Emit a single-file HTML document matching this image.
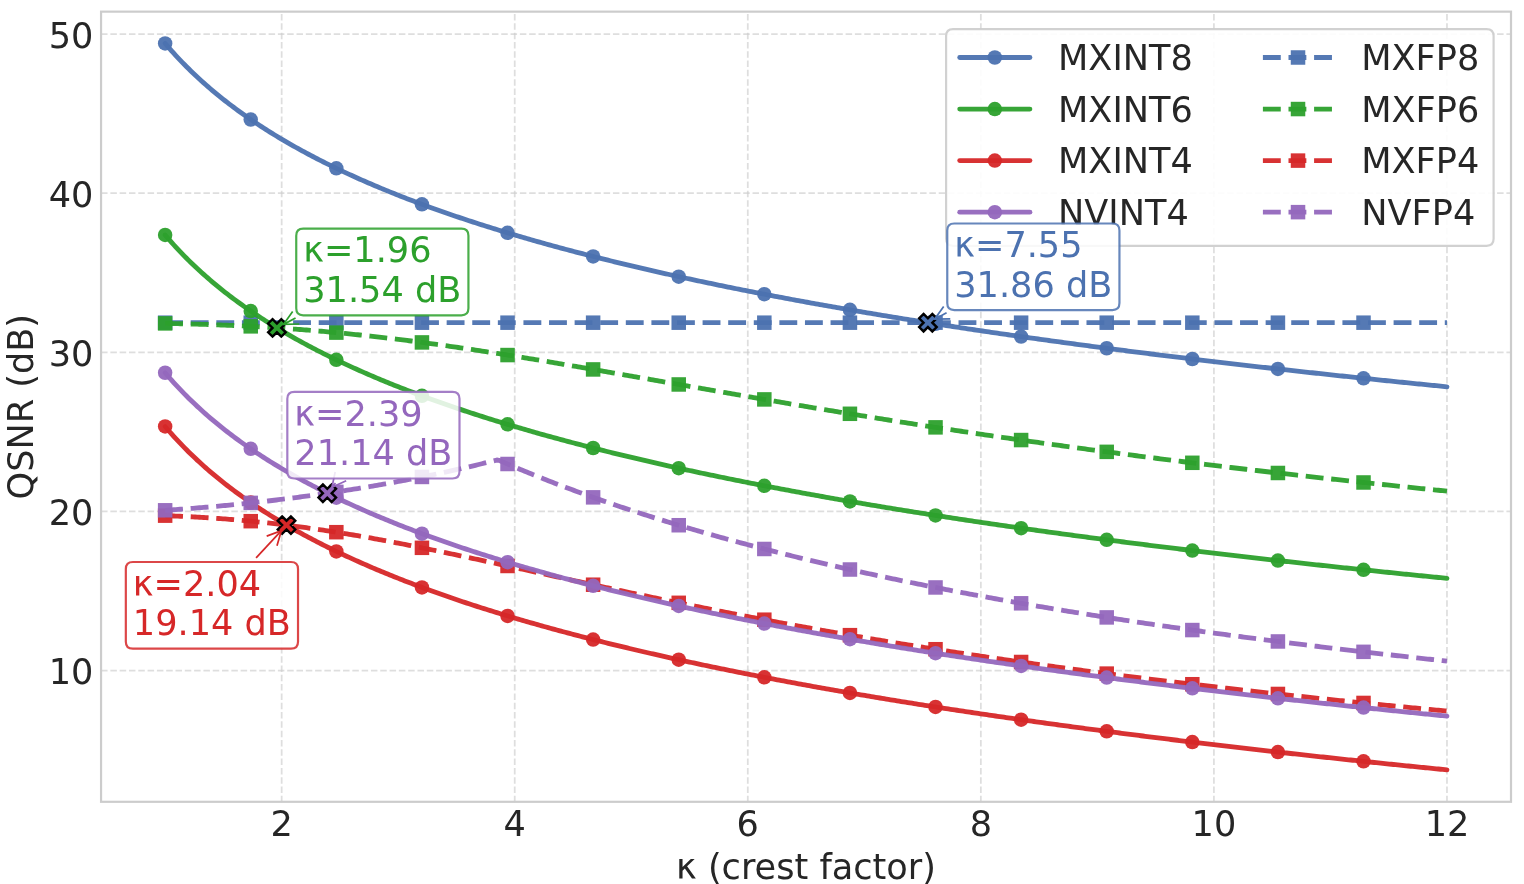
<!DOCTYPE html>
<html lang="en"><head><meta charset="utf-8"><title>QSNR vs crest factor</title>
<style>html,body{margin:0;padding:0;background:#fff}body{width:1524px;height:884px;overflow:hidden}svg{display:block}text{font-family:"DejaVu Sans","Liberation Sans",sans-serif;font-size:35.12px;fill:#262626}</style></head><body>
<svg width="1524" height="884" viewBox="0 0 1524 884" role="img" aria-label="QSNR versus crest factor for MX and NV integer and floating-point formats">
<rect width="1524" height="884" fill="#ffffff"/>
<g stroke="#cccccc" stroke-opacity="0.65" stroke-width="1.756" stroke-dasharray="6.497 2.810" fill="none">
<path d="M281.67 802.30V11.65"/>
<path d="M514.73 802.30V11.65"/>
<path d="M747.79 802.30V11.65"/>
<path d="M980.85 802.30V11.65"/>
<path d="M1213.91 802.30V11.65"/>
<path d="M1446.97 802.30V11.65"/>
<path d="M101.05 670.51H1511.00"/>
<path d="M101.05 511.42H1511.00"/>
<path d="M101.05 352.33H1511.00"/>
<path d="M101.05 193.24H1511.00"/>
<path d="M101.05 34.15H1511.00"/>
</g>
<g fill="none" stroke-width="4.829">
<polyline points="165.14,43.41 167.28,45.92 169.42,48.39 171.56,50.82 173.70,53.20 175.84,55.55 177.98,57.85 180.12,60.12 182.26,62.35 184.40,64.54 186.54,66.70 188.68,68.83 190.82,70.93 192.96,72.99 195.10,75.02 197.24,77.03 199.38,79.00 201.52,80.95 203.66,82.87 205.80,84.76 207.94,86.63 210.08,88.48 212.22,90.30 214.36,92.09 216.50,93.86 218.64,95.61 220.78,97.34 222.92,99.05 225.06,100.74 227.20,102.40 229.34,104.05 231.48,105.67 233.62,107.28 235.76,108.87 237.90,110.44 240.04,112.00 242.18,113.53 244.32,115.05 246.46,116.55 248.60,118.04 250.74,119.51 252.88,120.97 255.02,122.41 257.16,123.83 259.30,125.24 261.44,126.64 263.58,128.02 265.72,129.39 267.86,130.75 270.00,132.09 272.14,133.42 274.28,134.73 276.42,136.04 278.56,137.33 280.70,138.61 282.84,139.88 284.98,141.14 287.12,142.38 289.26,143.61 291.40,144.84 293.54,146.05 295.68,147.25 297.82,148.44 299.96,149.63 302.10,150.80 304.24,151.96 306.38,153.11 308.52,154.25 310.66,155.39 312.80,156.51 314.94,157.63 317.08,158.73 319.22,159.83 321.36,160.92 323.50,162.00 325.64,163.07 327.78,164.13 329.92,165.19 332.06,166.23 334.20,167.27 336.34,168.31 338.48,169.33 340.62,170.35 342.76,171.35 344.90,172.36 347.04,173.35 349.18,174.34 351.32,175.32 353.46,176.29 355.60,177.26 357.74,178.22 359.88,179.17 362.02,180.12 364.16,181.06 366.30,181.99 368.44,182.92 370.58,183.84 372.72,184.76 374.86,185.67 377.00,186.57 379.14,187.47 381.28,188.36 383.42,189.25 385.56,190.13 387.70,191.00 389.84,191.87 391.98,192.73 394.12,193.59 396.26,194.45 398.40,195.29 400.54,196.14 402.68,196.97 404.82,197.81 406.96,198.63 409.10,199.46 411.24,200.28 413.38,201.09 415.52,201.90 417.66,202.70 419.80,203.50 421.94,204.29 424.08,205.08 426.22,205.87 428.36,206.65 430.50,207.43 432.64,208.20 434.78,208.97 436.92,209.73 439.06,210.49 441.20,211.24 443.33,212.00 445.47,212.74 447.61,213.49 449.75,214.22 451.89,214.96 454.03,215.69 456.17,216.42 458.31,217.14 460.45,217.86 462.59,218.58 464.73,219.29 466.87,220.00 469.01,220.71 471.15,221.41 473.29,222.10 475.43,222.80 477.57,223.49 479.71,224.18 481.85,224.86 483.99,225.54 486.13,226.22 488.27,226.89 490.41,227.57 492.55,228.23 494.69,228.90 496.83,229.56 498.97,230.22 501.11,230.87 503.25,231.52 505.39,232.17 507.53,232.82 509.67,233.46 511.81,234.10 513.95,234.74 516.09,235.37 518.23,236.00 520.37,236.63 522.51,237.26 524.65,237.88 526.79,238.50 528.93,239.12 531.07,239.73 533.21,240.34 535.35,240.95 537.49,241.56 539.63,242.16 541.77,242.76 543.91,243.36 546.05,243.96 548.19,244.55 550.33,245.14 552.47,245.73 554.61,246.31 556.75,246.90 558.89,247.48 561.03,248.06 563.17,248.63 565.31,249.21 567.45,249.78 569.59,250.35 571.73,250.91 573.87,251.48 576.01,252.04 578.15,252.60 580.29,253.15 582.43,253.71 584.57,254.26 586.71,254.81 588.85,255.36 590.99,255.91 593.13,256.45 595.27,256.99 597.41,257.53 599.55,258.07 601.69,258.61 603.83,259.14 605.97,259.67 608.11,260.20 610.25,260.73 612.39,261.26 614.53,261.78 616.67,262.30 618.81,262.82 620.95,263.34 623.09,263.85 625.23,264.37 627.37,264.88 629.51,265.39 631.65,265.90 633.79,266.40 635.93,266.91 638.07,267.41 640.21,267.91 642.35,268.41 644.49,268.91 646.63,269.40 648.77,269.90 650.91,270.39 653.05,270.88 655.19,271.37 657.33,271.85 659.47,272.34 661.61,272.82 663.75,273.30 665.89,273.78 668.03,274.26 670.17,274.74 672.31,275.21 674.45,275.69 676.59,276.16 678.73,276.63 680.87,277.10 683.01,277.56 685.15,278.03 687.29,278.49 689.43,278.95 691.57,279.41 693.71,279.87 695.85,280.33 697.99,280.79 700.13,281.24 702.27,281.70 704.41,282.15 706.55,282.60 708.69,283.05 710.83,283.49 712.97,283.94 715.11,284.38 717.25,284.83 719.39,285.27 721.53,285.71 723.67,286.15 725.81,286.58 727.95,287.02 730.09,287.45 732.23,287.89 734.37,288.32 736.51,288.75 738.65,289.18 740.79,289.61 742.93,290.03 745.07,290.46 747.21,290.88 749.35,291.31 751.49,291.73 753.63,292.15 755.77,292.57 757.91,292.98 760.05,293.40 762.19,293.81 764.33,294.23 766.47,294.64 768.61,295.05 770.75,295.46 772.89,295.87 775.03,296.28 777.17,296.69 779.31,297.09 781.45,297.49 783.59,297.90 785.73,298.30 787.87,298.70 790.01,299.10 792.15,299.50 794.29,299.89 796.43,300.29 798.57,300.69 800.71,301.08 802.85,301.47 804.99,301.86 807.13,302.25 809.27,302.64 811.41,303.03 813.55,303.42 815.69,303.80 817.83,304.19 819.97,304.57 822.11,304.96 824.25,305.34 826.39,305.72 828.53,306.10 830.67,306.48 832.81,306.85 834.95,307.23 837.09,307.61 839.23,307.98 841.37,308.35 843.51,308.73 845.65,309.10 847.79,309.47 849.93,309.84 852.07,310.21 854.21,310.58 856.35,310.94 858.49,311.31 860.63,311.67 862.77,312.04 864.91,312.40 867.05,312.76 869.19,313.12 871.32,313.48 873.46,313.84 875.60,314.20 877.74,314.55 879.88,314.91 882.02,315.27 884.16,315.62 886.30,315.97 888.44,316.33 890.58,316.68 892.72,317.03 894.86,317.38 897.00,317.73 899.14,318.08 901.28,318.42 903.42,318.77 905.56,319.12 907.70,319.46 909.84,319.80 911.98,320.15 914.12,320.49 916.26,320.83 918.40,321.17 920.54,321.51 922.68,321.85 924.82,322.19 926.96,322.52 929.10,322.86 931.24,323.20 933.38,323.53 935.52,323.86 937.66,324.20 939.80,324.53 941.94,324.86 944.08,325.19 946.22,325.52 948.36,325.85 950.50,326.18 952.64,326.51 954.78,326.83 956.92,327.16 959.06,327.48 961.20,327.81 963.34,328.13 965.48,328.45 967.62,328.78 969.76,329.10 971.90,329.42 974.04,329.74 976.18,330.06 978.32,330.38 980.46,330.69 982.60,331.01 984.74,331.33 986.88,331.64 989.02,331.96 991.16,332.27 993.30,332.58 995.44,332.90 997.58,333.21 999.72,333.52 1001.86,333.83 1004.00,334.14 1006.14,334.45 1008.28,334.76 1010.42,335.07 1012.56,335.37 1014.70,335.68 1016.84,335.99 1018.98,336.29 1021.12,336.60 1023.26,336.90 1025.40,337.20 1027.54,337.50 1029.68,337.81 1031.82,338.11 1033.96,338.41 1036.10,338.71 1038.24,339.01 1040.38,339.31 1042.52,339.60 1044.66,339.90 1046.80,340.20 1048.94,340.49 1051.08,340.79 1053.22,341.08 1055.36,341.38 1057.50,341.67 1059.64,341.96 1061.78,342.25 1063.92,342.55 1066.06,342.84 1068.20,343.13 1070.34,343.42 1072.48,343.71 1074.62,344.00 1076.76,344.28 1078.90,344.57 1081.04,344.86 1083.18,345.14 1085.32,345.43 1087.46,345.71 1089.60,346.00 1091.74,346.28 1093.88,346.56 1096.02,346.85 1098.16,347.13 1100.30,347.41 1102.44,347.69 1104.58,347.97 1106.72,348.25 1108.86,348.53 1111.00,348.81 1113.14,349.09 1115.28,349.37 1117.42,349.64 1119.56,349.92 1121.70,350.19 1123.84,350.47 1125.98,350.74 1128.12,351.02 1130.26,351.29 1132.40,351.57 1134.54,351.84 1136.68,352.11 1138.82,352.38 1140.96,352.65 1143.10,352.92 1145.24,353.19 1147.38,353.46 1149.52,353.73 1151.66,354.00 1153.80,354.27 1155.94,354.53 1158.08,354.80 1160.22,355.07 1162.36,355.33 1164.50,355.60 1166.64,355.86 1168.78,356.13 1170.92,356.39 1173.06,356.65 1175.20,356.92 1177.34,357.18 1179.48,357.44 1181.62,357.70 1183.76,357.96 1185.90,358.22 1188.04,358.48 1190.18,358.74 1192.32,359.00 1194.46,359.26 1196.60,359.52 1198.74,359.78 1200.88,360.03 1203.02,360.29 1205.16,360.54 1207.30,360.80 1209.44,361.05 1211.58,361.31 1213.72,361.56 1215.86,361.82 1218.00,362.07 1220.14,362.32 1222.28,362.57 1224.42,362.83 1226.56,363.08 1228.70,363.33 1230.84,363.58 1232.98,363.83 1235.12,364.08 1237.26,364.33 1239.40,364.58 1241.54,364.82 1243.68,365.07 1245.82,365.32 1247.96,365.57 1250.10,365.81 1252.24,366.06 1254.38,366.30 1256.52,366.55 1258.66,366.79 1260.80,367.04 1262.94,367.28 1265.08,367.52 1267.22,367.77 1269.36,368.01 1271.50,368.25 1273.64,368.49 1275.78,368.73 1277.92,368.97 1280.06,369.22 1282.20,369.46 1284.34,369.69 1286.48,369.93 1288.62,370.17 1290.76,370.41 1292.90,370.65 1295.04,370.89 1297.18,371.12 1299.31,371.36 1301.45,371.60 1303.59,371.83 1305.73,372.07 1307.87,372.30 1310.01,372.54 1312.15,372.77 1314.29,373.00 1316.43,373.24 1318.57,373.47 1320.71,373.70 1322.85,373.94 1324.99,374.17 1327.13,374.40 1329.27,374.63 1331.41,374.86 1333.55,375.09 1335.69,375.32 1337.83,375.55 1339.97,375.78 1342.11,376.01 1344.25,376.24 1346.39,376.47 1348.53,376.69 1350.67,376.92 1352.81,377.15 1354.95,377.37 1357.09,377.60 1359.23,377.83 1361.37,378.05 1363.51,378.28 1365.65,378.50 1367.79,378.73 1369.93,378.95 1372.07,379.17 1374.21,379.40 1376.35,379.62 1378.49,379.84 1380.63,380.06 1382.77,380.29 1384.91,380.51 1387.05,380.73 1389.19,380.95 1391.33,381.17 1393.47,381.39 1395.61,381.61 1397.75,381.83 1399.89,382.05 1402.03,382.27 1404.17,382.48 1406.31,382.70 1408.45,382.92 1410.59,383.14 1412.73,383.35 1414.87,383.57 1417.01,383.79 1419.15,384.00 1421.29,384.22 1423.43,384.43 1425.57,384.65 1427.71,384.86 1429.85,385.08 1431.99,385.29 1434.13,385.51 1436.27,385.72 1438.41,385.93 1440.55,386.14 1442.69,386.36 1444.83,386.57 1446.97,386.78" stroke="#4c72b0" stroke-opacity="0.95" stroke-linecap="round" stroke-linejoin="round"/>
<g stroke="none"><circle cx="165.14" cy="43.41" r="7.25" fill="#4c72b0" fill-opacity="0.95"/><circle cx="250.74" cy="119.51" r="7.25" fill="#4c72b0" fill-opacity="0.95"/><circle cx="336.34" cy="168.31" r="7.25" fill="#4c72b0" fill-opacity="0.95"/><circle cx="421.94" cy="204.29" r="7.25" fill="#4c72b0" fill-opacity="0.95"/><circle cx="507.53" cy="232.82" r="7.25" fill="#4c72b0" fill-opacity="0.95"/><circle cx="593.13" cy="256.45" r="7.25" fill="#4c72b0" fill-opacity="0.95"/><circle cx="678.73" cy="276.63" r="7.25" fill="#4c72b0" fill-opacity="0.95"/><circle cx="764.33" cy="294.23" r="7.25" fill="#4c72b0" fill-opacity="0.95"/><circle cx="849.93" cy="309.84" r="7.25" fill="#4c72b0" fill-opacity="0.95"/><circle cx="935.52" cy="323.86" r="7.25" fill="#4c72b0" fill-opacity="0.95"/><circle cx="1021.12" cy="336.60" r="7.25" fill="#4c72b0" fill-opacity="0.95"/><circle cx="1106.72" cy="348.25" r="7.25" fill="#4c72b0" fill-opacity="0.95"/><circle cx="1192.32" cy="359.00" r="7.25" fill="#4c72b0" fill-opacity="0.95"/><circle cx="1277.92" cy="368.97" r="7.25" fill="#4c72b0" fill-opacity="0.95"/><circle cx="1363.51" cy="378.28" r="7.25" fill="#4c72b0" fill-opacity="0.95"/></g>
<polyline points="165.14,322.68 167.28,322.68 169.42,322.68 171.56,322.68 173.70,322.68 175.84,322.68 177.98,322.68 180.12,322.68 182.26,322.68 184.40,322.68 186.54,322.68 188.68,322.68 190.82,322.68 192.96,322.68 195.10,322.68 197.24,322.68 199.38,322.68 201.52,322.68 203.66,322.68 205.80,322.68 207.94,322.68 210.08,322.68 212.22,322.68 214.36,322.68 216.50,322.68 218.64,322.68 220.78,322.68 222.92,322.68 225.06,322.68 227.20,322.68 229.34,322.68 231.48,322.68 233.62,322.68 235.76,322.68 237.90,322.68 240.04,322.68 242.18,322.68 244.32,322.68 246.46,322.68 248.60,322.68 250.74,322.68 252.88,322.68 255.02,322.68 257.16,322.68 259.30,322.68 261.44,322.68 263.58,322.68 265.72,322.68 267.86,322.68 270.00,322.68 272.14,322.68 274.28,322.68 276.42,322.68 278.56,322.68 280.70,322.68 282.84,322.68 284.98,322.68 287.12,322.68 289.26,322.68 291.40,322.68 293.54,322.68 295.68,322.68 297.82,322.68 299.96,322.68 302.10,322.68 304.24,322.68 306.38,322.68 308.52,322.68 310.66,322.68 312.80,322.68 314.94,322.68 317.08,322.68 319.22,322.68 321.36,322.68 323.50,322.68 325.64,322.68 327.78,322.68 329.92,322.68 332.06,322.68 334.20,322.68 336.34,322.68 338.48,322.68 340.62,322.68 342.76,322.68 344.90,322.68 347.04,322.68 349.18,322.68 351.32,322.68 353.46,322.68 355.60,322.68 357.74,322.68 359.88,322.68 362.02,322.68 364.16,322.68 366.30,322.68 368.44,322.68 370.58,322.68 372.72,322.68 374.86,322.68 377.00,322.68 379.14,322.68 381.28,322.68 383.42,322.68 385.56,322.68 387.70,322.68 389.84,322.68 391.98,322.68 394.12,322.68 396.26,322.68 398.40,322.68 400.54,322.68 402.68,322.68 404.82,322.68 406.96,322.68 409.10,322.68 411.24,322.68 413.38,322.68 415.52,322.68 417.66,322.68 419.80,322.68 421.94,322.68 424.08,322.68 426.22,322.68 428.36,322.68 430.50,322.68 432.64,322.68 434.78,322.68 436.92,322.68 439.06,322.68 441.20,322.68 443.33,322.68 445.47,322.68 447.61,322.68 449.75,322.68 451.89,322.68 454.03,322.68 456.17,322.68 458.31,322.68 460.45,322.68 462.59,322.68 464.73,322.68 466.87,322.68 469.01,322.68 471.15,322.68 473.29,322.68 475.43,322.68 477.57,322.68 479.71,322.68 481.85,322.68 483.99,322.68 486.13,322.68 488.27,322.68 490.41,322.68 492.55,322.68 494.69,322.68 496.83,322.68 498.97,322.68 501.11,322.68 503.25,322.68 505.39,322.68 507.53,322.68 509.67,322.68 511.81,322.68 513.95,322.68 516.09,322.68 518.23,322.68 520.37,322.68 522.51,322.68 524.65,322.68 526.79,322.68 528.93,322.68 531.07,322.68 533.21,322.68 535.35,322.68 537.49,322.68 539.63,322.68 541.77,322.68 543.91,322.68 546.05,322.68 548.19,322.68 550.33,322.68 552.47,322.68 554.61,322.68 556.75,322.68 558.89,322.68 561.03,322.68 563.17,322.68 565.31,322.68 567.45,322.68 569.59,322.68 571.73,322.68 573.87,322.68 576.01,322.68 578.15,322.68 580.29,322.68 582.43,322.68 584.57,322.68 586.71,322.68 588.85,322.68 590.99,322.68 593.13,322.68 595.27,322.68 597.41,322.68 599.55,322.68 601.69,322.68 603.83,322.68 605.97,322.68 608.11,322.68 610.25,322.68 612.39,322.68 614.53,322.68 616.67,322.68 618.81,322.68 620.95,322.68 623.09,322.68 625.23,322.68 627.37,322.68 629.51,322.68 631.65,322.68 633.79,322.68 635.93,322.68 638.07,322.68 640.21,322.68 642.35,322.68 644.49,322.68 646.63,322.68 648.77,322.68 650.91,322.68 653.05,322.68 655.19,322.68 657.33,322.68 659.47,322.68 661.61,322.68 663.75,322.68 665.89,322.68 668.03,322.68 670.17,322.68 672.31,322.68 674.45,322.68 676.59,322.68 678.73,322.68 680.87,322.68 683.01,322.68 685.15,322.68 687.29,322.68 689.43,322.68 691.57,322.68 693.71,322.68 695.85,322.68 697.99,322.68 700.13,322.68 702.27,322.68 704.41,322.68 706.55,322.68 708.69,322.68 710.83,322.68 712.97,322.68 715.11,322.68 717.25,322.68 719.39,322.68 721.53,322.68 723.67,322.68 725.81,322.68 727.95,322.68 730.09,322.68 732.23,322.68 734.37,322.68 736.51,322.68 738.65,322.68 740.79,322.68 742.93,322.68 745.07,322.68 747.21,322.68 749.35,322.68 751.49,322.68 753.63,322.68 755.77,322.68 757.91,322.68 760.05,322.68 762.19,322.68 764.33,322.68 766.47,322.68 768.61,322.68 770.75,322.68 772.89,322.68 775.03,322.68 777.17,322.68 779.31,322.68 781.45,322.68 783.59,322.68 785.73,322.68 787.87,322.68 790.01,322.68 792.15,322.68 794.29,322.68 796.43,322.68 798.57,322.68 800.71,322.68 802.85,322.68 804.99,322.68 807.13,322.68 809.27,322.68 811.41,322.68 813.55,322.68 815.69,322.68 817.83,322.68 819.97,322.68 822.11,322.68 824.25,322.68 826.39,322.68 828.53,322.68 830.67,322.68 832.81,322.68 834.95,322.68 837.09,322.68 839.23,322.68 841.37,322.68 843.51,322.68 845.65,322.68 847.79,322.68 849.93,322.68 852.07,322.68 854.21,322.68 856.35,322.68 858.49,322.68 860.63,322.68 862.77,322.68 864.91,322.68 867.05,322.68 869.19,322.68 871.32,322.68 873.46,322.68 875.60,322.68 877.74,322.68 879.88,322.68 882.02,322.68 884.16,322.68 886.30,322.68 888.44,322.68 890.58,322.68 892.72,322.68 894.86,322.68 897.00,322.68 899.14,322.68 901.28,322.68 903.42,322.68 905.56,322.68 907.70,322.68 909.84,322.68 911.98,322.68 914.12,322.68 916.26,322.68 918.40,322.68 920.54,322.68 922.68,322.68 924.82,322.68 926.96,322.68 929.10,322.68 931.24,322.68 933.38,322.68 935.52,322.68 937.66,322.68 939.80,322.68 941.94,322.68 944.08,322.68 946.22,322.68 948.36,322.68 950.50,322.68 952.64,322.68 954.78,322.68 956.92,322.68 959.06,322.68 961.20,322.68 963.34,322.68 965.48,322.68 967.62,322.68 969.76,322.68 971.90,322.68 974.04,322.68 976.18,322.68 978.32,322.68 980.46,322.68 982.60,322.68 984.74,322.68 986.88,322.68 989.02,322.68 991.16,322.68 993.30,322.68 995.44,322.68 997.58,322.68 999.72,322.68 1001.86,322.68 1004.00,322.68 1006.14,322.68 1008.28,322.68 1010.42,322.68 1012.56,322.68 1014.70,322.68 1016.84,322.68 1018.98,322.68 1021.12,322.68 1023.26,322.68 1025.40,322.68 1027.54,322.68 1029.68,322.68 1031.82,322.68 1033.96,322.68 1036.10,322.68 1038.24,322.68 1040.38,322.68 1042.52,322.68 1044.66,322.68 1046.80,322.68 1048.94,322.68 1051.08,322.68 1053.22,322.68 1055.36,322.68 1057.50,322.68 1059.64,322.68 1061.78,322.68 1063.92,322.68 1066.06,322.68 1068.20,322.68 1070.34,322.68 1072.48,322.68 1074.62,322.68 1076.76,322.68 1078.90,322.68 1081.04,322.68 1083.18,322.68 1085.32,322.68 1087.46,322.68 1089.60,322.68 1091.74,322.68 1093.88,322.68 1096.02,322.68 1098.16,322.68 1100.30,322.68 1102.44,322.68 1104.58,322.68 1106.72,322.68 1108.86,322.68 1111.00,322.68 1113.14,322.68 1115.28,322.68 1117.42,322.68 1119.56,322.68 1121.70,322.68 1123.84,322.68 1125.98,322.68 1128.12,322.68 1130.26,322.68 1132.40,322.68 1134.54,322.68 1136.68,322.68 1138.82,322.68 1140.96,322.68 1143.10,322.68 1145.24,322.68 1147.38,322.68 1149.52,322.68 1151.66,322.68 1153.80,322.68 1155.94,322.68 1158.08,322.68 1160.22,322.68 1162.36,322.68 1164.50,322.68 1166.64,322.68 1168.78,322.68 1170.92,322.68 1173.06,322.68 1175.20,322.68 1177.34,322.68 1179.48,322.68 1181.62,322.68 1183.76,322.68 1185.90,322.68 1188.04,322.68 1190.18,322.68 1192.32,322.68 1194.46,322.68 1196.60,322.68 1198.74,322.68 1200.88,322.68 1203.02,322.68 1205.16,322.68 1207.30,322.68 1209.44,322.68 1211.58,322.68 1213.72,322.68 1215.86,322.68 1218.00,322.68 1220.14,322.68 1222.28,322.68 1224.42,322.68 1226.56,322.68 1228.70,322.68 1230.84,322.68 1232.98,322.68 1235.12,322.68 1237.26,322.68 1239.40,322.68 1241.54,322.68 1243.68,322.68 1245.82,322.68 1247.96,322.68 1250.10,322.68 1252.24,322.68 1254.38,322.68 1256.52,322.68 1258.66,322.68 1260.80,322.68 1262.94,322.68 1265.08,322.68 1267.22,322.68 1269.36,322.68 1271.50,322.68 1273.64,322.68 1275.78,322.68 1277.92,322.68 1280.06,322.68 1282.20,322.68 1284.34,322.68 1286.48,322.68 1288.62,322.68 1290.76,322.68 1292.90,322.68 1295.04,322.68 1297.18,322.68 1299.31,322.68 1301.45,322.68 1303.59,322.68 1305.73,322.68 1307.87,322.68 1310.01,322.68 1312.15,322.68 1314.29,322.68 1316.43,322.68 1318.57,322.68 1320.71,322.68 1322.85,322.68 1324.99,322.68 1327.13,322.68 1329.27,322.68 1331.41,322.68 1333.55,322.68 1335.69,322.68 1337.83,322.68 1339.97,322.68 1342.11,322.68 1344.25,322.68 1346.39,322.68 1348.53,322.68 1350.67,322.68 1352.81,322.68 1354.95,322.68 1357.09,322.68 1359.23,322.68 1361.37,322.68 1363.51,322.68 1365.65,322.68 1367.79,322.68 1369.93,322.68 1372.07,322.68 1374.21,322.68 1376.35,322.68 1378.49,322.68 1380.63,322.68 1382.77,322.68 1384.91,322.68 1387.05,322.68 1389.19,322.68 1391.33,322.68 1393.47,322.68 1395.61,322.68 1397.75,322.68 1399.89,322.68 1402.03,322.68 1404.17,322.68 1406.31,322.68 1408.45,322.68 1410.59,322.68 1412.73,322.68 1414.87,322.68 1417.01,322.68 1419.15,322.68 1421.29,322.68 1423.43,322.68 1425.57,322.68 1427.71,322.68 1429.85,322.68 1431.99,322.68 1434.13,322.68 1436.27,322.68 1438.41,322.68 1440.55,322.68 1442.69,322.68 1444.83,322.68 1446.97,322.68" stroke="#4c72b0" stroke-opacity="0.95" stroke-dasharray="17.867 7.726" stroke-linejoin="round"/>
<g stroke="none"><rect x="157.89" y="315.43" width="14.50" height="14.50" fill="#4c72b0" fill-opacity="0.95"/><rect x="243.49" y="315.43" width="14.50" height="14.50" fill="#4c72b0" fill-opacity="0.95"/><rect x="329.09" y="315.43" width="14.50" height="14.50" fill="#4c72b0" fill-opacity="0.95"/><rect x="414.69" y="315.43" width="14.50" height="14.50" fill="#4c72b0" fill-opacity="0.95"/><rect x="500.28" y="315.43" width="14.50" height="14.50" fill="#4c72b0" fill-opacity="0.95"/><rect x="585.88" y="315.43" width="14.50" height="14.50" fill="#4c72b0" fill-opacity="0.95"/><rect x="671.48" y="315.43" width="14.50" height="14.50" fill="#4c72b0" fill-opacity="0.95"/><rect x="757.08" y="315.43" width="14.50" height="14.50" fill="#4c72b0" fill-opacity="0.95"/><rect x="842.68" y="315.43" width="14.50" height="14.50" fill="#4c72b0" fill-opacity="0.95"/><rect x="928.27" y="315.43" width="14.50" height="14.50" fill="#4c72b0" fill-opacity="0.95"/><rect x="1013.87" y="315.43" width="14.50" height="14.50" fill="#4c72b0" fill-opacity="0.95"/><rect x="1099.47" y="315.43" width="14.50" height="14.50" fill="#4c72b0" fill-opacity="0.95"/><rect x="1185.07" y="315.43" width="14.50" height="14.50" fill="#4c72b0" fill-opacity="0.95"/><rect x="1270.67" y="315.43" width="14.50" height="14.50" fill="#4c72b0" fill-opacity="0.95"/><rect x="1356.26" y="315.43" width="14.50" height="14.50" fill="#4c72b0" fill-opacity="0.95"/></g>
<polyline points="165.14,234.95 167.28,237.47 169.42,239.93 171.56,242.36 173.70,244.75 175.84,247.09 177.98,249.39 180.12,251.66 182.26,253.89 184.40,256.09 186.54,258.25 188.68,260.38 190.82,262.47 192.96,264.53 195.10,266.57 197.24,268.57 199.38,270.55 201.52,272.49 203.66,274.41 205.80,276.31 207.94,278.18 210.08,280.02 212.22,281.84 214.36,283.64 216.50,285.41 218.64,287.16 220.78,288.89 222.92,290.59 225.06,292.28 227.20,293.95 229.34,295.59 231.48,297.22 233.62,298.83 235.76,300.42 237.90,301.99 240.04,303.54 242.18,305.08 244.32,306.60 246.46,308.10 248.60,309.58 250.74,311.06 252.88,312.51 255.02,313.95 257.16,315.38 259.30,316.79 261.44,318.18 263.58,319.57 265.72,320.93 267.86,322.29 270.00,323.63 272.14,324.96 274.28,326.28 276.42,327.58 278.56,328.87 280.70,330.15 282.84,331.42 284.98,332.68 287.12,333.92 289.26,335.16 291.40,336.38 293.54,337.60 295.68,338.80 297.82,339.99 299.96,341.17 302.10,342.34 304.24,343.50 306.38,344.66 308.52,345.80 310.66,346.93 312.80,348.05 314.94,349.17 317.08,350.28 319.22,351.37 321.36,352.46 323.50,353.54 325.64,354.61 327.78,355.68 329.92,356.73 332.06,357.78 334.20,358.82 336.34,359.85 338.48,360.87 340.62,361.89 342.76,362.90 344.90,363.90 347.04,364.89 349.18,365.88 351.32,366.86 353.46,367.84 355.60,368.80 357.74,369.76 359.88,370.72 362.02,371.66 364.16,372.60 366.30,373.54 368.44,374.46 370.58,375.39 372.72,376.30 374.86,377.21 377.00,378.11 379.14,379.01 381.28,379.90 383.42,380.79 385.56,381.67 387.70,382.54 389.84,383.41 391.98,384.28 394.12,385.14 396.26,385.99 398.40,386.84 400.54,387.68 402.68,388.52 404.82,389.35 406.96,390.18 409.10,391.00 411.24,391.82 413.38,392.63 415.52,393.44 417.66,394.24 419.80,395.04 421.94,395.84 424.08,396.63 426.22,397.41 428.36,398.19 430.50,398.97 432.64,399.74 434.78,400.51 436.92,401.27 439.06,402.03 441.20,402.79 443.33,403.54 445.47,404.29 447.61,405.03 449.75,405.77 451.89,406.50 454.03,407.24 456.17,407.96 458.31,408.69 460.45,409.41 462.59,410.12 464.73,410.84 466.87,411.54 469.01,412.25 471.15,412.95 473.29,413.65 475.43,414.34 477.57,415.03 479.71,415.72 481.85,416.41 483.99,417.09 486.13,417.76 488.27,418.44 490.41,419.11 492.55,419.78 494.69,420.44 496.83,421.10 498.97,421.76 501.11,422.42 503.25,423.07 505.39,423.72 507.53,424.36 509.67,425.01 511.81,425.65 513.95,426.28 516.09,426.92 518.23,427.55 520.37,428.18 522.51,428.80 524.65,429.42 526.79,430.04 528.93,430.66 531.07,431.28 533.21,431.89 535.35,432.50 537.49,433.10 539.63,433.71 541.77,434.31 543.91,434.90 546.05,435.50 548.19,436.09 550.33,436.68 552.47,437.27 554.61,437.86 556.75,438.44 558.89,439.02 561.03,439.60 563.17,440.18 565.31,440.75 567.45,441.32 569.59,441.89 571.73,442.46 573.87,443.02 576.01,443.58 578.15,444.14 580.29,444.70 582.43,445.25 584.57,445.81 586.71,446.36 588.85,446.91 590.99,447.45 593.13,448.00 595.27,448.54 597.41,449.08 599.55,449.62 601.69,450.15 603.83,450.69 605.97,451.22 608.11,451.75 610.25,452.27 612.39,452.80 614.53,453.32 616.67,453.84 618.81,454.36 620.95,454.88 623.09,455.40 625.23,455.91 627.37,456.42 629.51,456.93 631.65,457.44 633.79,457.95 635.93,458.45 638.07,458.95 640.21,459.46 642.35,459.95 644.49,460.45 646.63,460.95 648.77,461.44 650.91,461.93 653.05,462.42 655.19,462.91 657.33,463.40 659.47,463.88 661.61,464.37 663.75,464.85 665.89,465.33 668.03,465.80 670.17,466.28 672.31,466.76 674.45,467.23 676.59,467.70 678.73,468.17 680.87,468.64 683.01,469.11 685.15,469.57 687.29,470.04 689.43,470.50 691.57,470.96 693.71,471.42 695.85,471.88 697.99,472.33 700.13,472.79 702.27,473.24 704.41,473.69 706.55,474.14 708.69,474.59 710.83,475.04 712.97,475.48 715.11,475.93 717.25,476.37 719.39,476.81 721.53,477.25 723.67,477.69 725.81,478.13 727.95,478.56 730.09,479.00 732.23,479.43 734.37,479.86 736.51,480.29 738.65,480.72 740.79,481.15 742.93,481.58 745.07,482.00 747.21,482.43 749.35,482.85 751.49,483.27 753.63,483.69 755.77,484.11 757.91,484.53 760.05,484.94 762.19,485.36 764.33,485.77 766.47,486.19 768.61,486.60 770.75,487.01 772.89,487.42 775.03,487.82 777.17,488.23 779.31,488.64 781.45,489.04 783.59,489.44 785.73,489.84 787.87,490.24 790.01,490.64 792.15,491.04 794.29,491.44 796.43,491.84 798.57,492.23 800.71,492.62 802.85,493.02 804.99,493.41 807.13,493.80 809.27,494.19 811.41,494.58 813.55,494.96 815.69,495.35 817.83,495.73 819.97,496.12 822.11,496.50 824.25,496.88 826.39,497.26 828.53,497.64 830.67,498.02 832.81,498.40 834.95,498.78 837.09,499.15 839.23,499.53 841.37,499.90 843.51,500.27 845.65,500.64 847.79,501.01 849.93,501.38 852.07,501.75 854.21,502.12 856.35,502.49 858.49,502.85 860.63,503.22 862.77,503.58 864.91,503.94 867.05,504.30 869.19,504.67 871.32,505.03 873.46,505.38 875.60,505.74 877.74,506.10 879.88,506.46 882.02,506.81 884.16,507.17 886.30,507.52 888.44,507.87 890.58,508.22 892.72,508.57 894.86,508.92 897.00,509.27 899.14,509.62 901.28,509.97 903.42,510.31 905.56,510.66 907.70,511.00 909.84,511.35 911.98,511.69 914.12,512.03 916.26,512.37 918.40,512.71 920.54,513.05 922.68,513.39 924.82,513.73 926.96,514.07 929.10,514.40 931.24,514.74 933.38,515.07 935.52,515.41 937.66,515.74 939.80,516.07 941.94,516.40 944.08,516.74 946.22,517.07 948.36,517.39 950.50,517.72 952.64,518.05 954.78,518.38 956.92,518.70 959.06,519.03 961.20,519.35 963.34,519.68 965.48,520.00 967.62,520.32 969.76,520.64 971.90,520.96 974.04,521.28 976.18,521.60 978.32,521.92 980.46,522.24 982.60,522.56 984.74,522.87 986.88,523.19 989.02,523.50 991.16,523.82 993.30,524.13 995.44,524.44 997.58,524.75 999.72,525.06 1001.86,525.38 1004.00,525.69 1006.14,525.99 1008.28,526.30 1010.42,526.61 1012.56,526.92 1014.70,527.22 1016.84,527.53 1018.98,527.84 1021.12,528.14 1023.26,528.44 1025.40,528.75 1027.54,529.05 1029.68,529.35 1031.82,529.65 1033.96,529.95 1036.10,530.25 1038.24,530.55 1040.38,530.85 1042.52,531.15 1044.66,531.44 1046.80,531.74 1048.94,532.04 1051.08,532.33 1053.22,532.63 1055.36,532.92 1057.50,533.21 1059.64,533.51 1061.78,533.80 1063.92,534.09 1066.06,534.38 1068.20,534.67 1070.34,534.96 1072.48,535.25 1074.62,535.54 1076.76,535.83 1078.90,536.11 1081.04,536.40 1083.18,536.69 1085.32,536.97 1087.46,537.26 1089.60,537.54 1091.74,537.83 1093.88,538.11 1096.02,538.39 1098.16,538.67 1100.30,538.96 1102.44,539.24 1104.58,539.52 1106.72,539.80 1108.86,540.08 1111.00,540.35 1113.14,540.63 1115.28,540.91 1117.42,541.19 1119.56,541.46 1121.70,541.74 1123.84,542.01 1125.98,542.29 1128.12,542.56 1130.26,542.84 1132.40,543.11 1134.54,543.38 1136.68,543.65 1138.82,543.93 1140.96,544.20 1143.10,544.47 1145.24,544.74 1147.38,545.01 1149.52,545.28 1151.66,545.54 1153.80,545.81 1155.94,546.08 1158.08,546.35 1160.22,546.61 1162.36,546.88 1164.50,547.14 1166.64,547.41 1168.78,547.67 1170.92,547.94 1173.06,548.20 1175.20,548.46 1177.34,548.72 1179.48,548.99 1181.62,549.25 1183.76,549.51 1185.90,549.77 1188.04,550.03 1190.18,550.29 1192.32,550.55 1194.46,550.80 1196.60,551.06 1198.74,551.32 1200.88,551.58 1203.02,551.83 1205.16,552.09 1207.30,552.34 1209.44,552.60 1211.58,552.85 1213.72,553.11 1215.86,553.36 1218.00,553.61 1220.14,553.87 1222.28,554.12 1224.42,554.37 1226.56,554.62 1228.70,554.87 1230.84,555.12 1232.98,555.37 1235.12,555.62 1237.26,555.87 1239.40,556.12 1241.54,556.37 1243.68,556.62 1245.82,556.86 1247.96,557.11 1250.10,557.36 1252.24,557.60 1254.38,557.85 1256.52,558.09 1258.66,558.34 1260.80,558.58 1262.94,558.83 1265.08,559.07 1267.22,559.31 1269.36,559.55 1271.50,559.80 1273.64,560.04 1275.78,560.28 1277.92,560.52 1280.06,560.76 1282.20,561.00 1284.34,561.24 1286.48,561.48 1288.62,561.72 1290.76,561.96 1292.90,562.19 1295.04,562.43 1297.18,562.67 1299.31,562.90 1301.45,563.14 1303.59,563.38 1305.73,563.61 1307.87,563.85 1310.01,564.08 1312.15,564.32 1314.29,564.55 1316.43,564.78 1318.57,565.02 1320.71,565.25 1322.85,565.48 1324.99,565.71 1327.13,565.94 1329.27,566.18 1331.41,566.41 1333.55,566.64 1335.69,566.87 1337.83,567.10 1339.97,567.32 1342.11,567.55 1344.25,567.78 1346.39,568.01 1348.53,568.24 1350.67,568.46 1352.81,568.69 1354.95,568.92 1357.09,569.14 1359.23,569.37 1361.37,569.60 1363.51,569.82 1365.65,570.05 1367.79,570.27 1369.93,570.49 1372.07,570.72 1374.21,570.94 1376.35,571.16 1378.49,571.39 1380.63,571.61 1382.77,571.83 1384.91,572.05 1387.05,572.27 1389.19,572.49 1391.33,572.71 1393.47,572.93 1395.61,573.15 1397.75,573.37 1399.89,573.59 1402.03,573.81 1404.17,574.03 1406.31,574.25 1408.45,574.46 1410.59,574.68 1412.73,574.90 1414.87,575.12 1417.01,575.33 1419.15,575.55 1421.29,575.76 1423.43,575.98 1425.57,576.19 1427.71,576.41 1429.85,576.62 1431.99,576.84 1434.13,577.05 1436.27,577.26 1438.41,577.48 1440.55,577.69 1442.69,577.90 1444.83,578.11 1446.97,578.32" stroke="#2ca02c" stroke-opacity="0.95" stroke-linecap="round" stroke-linejoin="round"/>
<g stroke="none"><circle cx="165.14" cy="234.95" r="7.25" fill="#2ca02c" fill-opacity="0.95"/><circle cx="250.74" cy="311.06" r="7.25" fill="#2ca02c" fill-opacity="0.95"/><circle cx="336.34" cy="359.85" r="7.25" fill="#2ca02c" fill-opacity="0.95"/><circle cx="421.94" cy="395.84" r="7.25" fill="#2ca02c" fill-opacity="0.95"/><circle cx="507.53" cy="424.36" r="7.25" fill="#2ca02c" fill-opacity="0.95"/><circle cx="593.13" cy="448.00" r="7.25" fill="#2ca02c" fill-opacity="0.95"/><circle cx="678.73" cy="468.17" r="7.25" fill="#2ca02c" fill-opacity="0.95"/><circle cx="764.33" cy="485.77" r="7.25" fill="#2ca02c" fill-opacity="0.95"/><circle cx="849.93" cy="501.38" r="7.25" fill="#2ca02c" fill-opacity="0.95"/><circle cx="935.52" cy="515.41" r="7.25" fill="#2ca02c" fill-opacity="0.95"/><circle cx="1021.12" cy="528.14" r="7.25" fill="#2ca02c" fill-opacity="0.95"/><circle cx="1106.72" cy="539.80" r="7.25" fill="#2ca02c" fill-opacity="0.95"/><circle cx="1192.32" cy="550.55" r="7.25" fill="#2ca02c" fill-opacity="0.95"/><circle cx="1277.92" cy="560.52" r="7.25" fill="#2ca02c" fill-opacity="0.95"/><circle cx="1363.51" cy="569.82" r="7.25" fill="#2ca02c" fill-opacity="0.95"/></g>
<polyline points="165.14,323.40 167.28,323.44 169.42,323.49 171.56,323.53 173.70,323.57 175.84,323.62 177.98,323.67 180.12,323.72 182.26,323.77 184.40,323.82 186.54,323.88 188.68,323.93 190.82,323.99 192.96,324.05 195.10,324.11 197.24,324.17 199.38,324.24 201.52,324.30 203.66,324.37 205.80,324.44 207.94,324.51 210.08,324.59 212.22,324.66 214.36,324.74 216.50,324.82 218.64,324.90 220.78,324.98 222.92,325.06 225.06,325.15 227.20,325.24 229.34,325.33 231.48,325.42 233.62,325.52 235.76,325.62 237.90,325.71 240.04,325.81 242.18,325.92 244.32,326.02 246.46,326.13 248.60,326.24 250.74,326.35 252.88,326.46 255.02,326.58 257.16,326.70 259.30,326.82 261.44,326.94 263.58,327.06 265.72,327.19 267.86,327.32 270.00,327.45 272.14,327.58 274.28,327.72 276.42,327.85 278.56,327.99 280.70,328.14 282.84,328.28 284.98,328.43 287.12,328.58 289.26,328.73 291.40,328.88 293.54,329.04 295.68,329.19 297.82,329.35 299.96,329.52 302.10,329.68 304.24,329.85 306.38,330.02 308.52,330.19 310.66,330.36 312.80,330.54 314.94,330.72 317.08,330.90 319.22,331.08 321.36,331.26 323.50,331.45 325.64,331.64 327.78,331.83 329.92,332.03 332.06,332.22 334.20,332.42 336.34,332.62 338.48,332.83 340.62,333.03 342.76,333.24 344.90,333.45 347.04,333.66 349.18,333.88 351.32,334.09 353.46,334.31 355.60,334.53 357.74,334.76 359.88,334.98 362.02,335.21 364.16,335.44 366.30,335.67 368.44,335.91 370.58,336.14 372.72,336.38 374.86,336.62 377.00,336.86 379.14,337.11 381.28,337.36 383.42,337.60 385.56,337.85 387.70,338.11 389.84,338.36 391.98,338.62 394.12,338.88 396.26,339.14 398.40,339.40 400.54,339.67 402.68,339.93 404.82,340.20 406.96,340.47 409.10,340.75 411.24,341.02 413.38,341.30 415.52,341.58 417.66,341.86 419.80,342.14 421.94,342.42 424.08,342.71 426.22,342.99 428.36,343.28 430.50,343.57 432.64,343.87 434.78,344.16 436.92,344.46 439.06,344.75 441.20,345.05 443.33,345.35 445.47,345.66 447.61,345.96 449.75,346.27 451.89,346.57 454.03,346.88 456.17,347.19 458.31,347.51 460.45,347.82 462.59,348.13 464.73,348.45 466.87,348.77 469.01,349.09 471.15,349.41 473.29,349.73 475.43,350.05 477.57,350.38 479.71,350.70 481.85,351.03 483.99,351.36 486.13,351.69 488.27,352.02 490.41,352.35 492.55,352.69 494.69,353.02 496.83,353.36 498.97,353.70 501.11,354.04 503.25,354.38 505.39,354.72 507.53,355.06 509.67,355.40 511.81,355.74 513.95,356.09 516.09,356.44 518.23,356.78 520.37,357.13 522.51,357.48 524.65,357.83 526.79,358.18 528.93,358.53 531.07,358.88 533.21,359.24 535.35,359.59 537.49,359.95 539.63,360.30 541.77,360.66 543.91,361.02 546.05,361.38 548.19,361.74 550.33,362.10 552.47,362.46 554.61,362.82 556.75,363.18 558.89,363.54 561.03,363.91 563.17,364.27 565.31,364.64 567.45,365.00 569.59,365.37 571.73,365.73 573.87,366.10 576.01,366.47 578.15,366.84 580.29,367.20 582.43,367.57 584.57,367.94 586.71,368.31 588.85,368.68 590.99,369.05 593.13,369.43 595.27,369.80 597.41,370.17 599.55,370.54 601.69,370.91 603.83,371.29 605.97,371.66 608.11,372.03 610.25,372.41 612.39,372.78 614.53,373.16 616.67,373.53 618.81,373.91 620.95,374.28 623.09,374.66 625.23,375.04 627.37,375.41 629.51,375.79 631.65,376.16 633.79,376.54 635.93,376.92 638.07,377.29 640.21,377.67 642.35,378.05 644.49,378.43 646.63,378.80 648.77,379.18 650.91,379.56 653.05,379.94 655.19,380.31 657.33,380.69 659.47,381.07 661.61,381.45 663.75,381.82 665.89,382.20 668.03,382.58 670.17,382.96 672.31,383.33 674.45,383.71 676.59,384.09 678.73,384.47 680.87,384.84 683.01,385.22 685.15,385.60 687.29,385.97 689.43,386.35 691.57,386.73 693.71,387.10 695.85,387.48 697.99,387.86 700.13,388.23 702.27,388.61 704.41,388.99 706.55,389.36 708.69,389.74 710.83,390.11 712.97,390.49 715.11,390.86 717.25,391.24 719.39,391.61 721.53,391.98 723.67,392.36 725.81,392.73 727.95,393.11 730.09,393.48 732.23,393.85 734.37,394.22 736.51,394.60 738.65,394.97 740.79,395.34 742.93,395.71 745.07,396.08 747.21,396.45 749.35,396.82 751.49,397.19 753.63,397.56 755.77,397.93 757.91,398.30 760.05,398.67 762.19,399.04 764.33,399.41 766.47,399.78 768.61,400.14 770.75,400.51 772.89,400.88 775.03,401.24 777.17,401.61 779.31,401.97 781.45,402.34 783.59,402.70 785.73,403.07 787.87,403.43 790.01,403.80 792.15,404.16 794.29,404.52 796.43,404.88 798.57,405.24 800.71,405.61 802.85,405.97 804.99,406.33 807.13,406.69 809.27,407.05 811.41,407.41 813.55,407.76 815.69,408.12 817.83,408.48 819.97,408.84 822.11,409.19 824.25,409.55 826.39,409.90 828.53,410.26 830.67,410.61 832.81,410.97 834.95,411.32 837.09,411.68 839.23,412.03 841.37,412.38 843.51,412.73 845.65,413.08 847.79,413.44 849.93,413.79 852.07,414.14 854.21,414.48 856.35,414.83 858.49,415.18 860.63,415.53 862.77,415.88 864.91,416.22 867.05,416.57 869.19,416.91 871.32,417.26 873.46,417.60 875.60,417.95 877.74,418.29 879.88,418.63 882.02,418.98 884.16,419.32 886.30,419.66 888.44,420.00 890.58,420.34 892.72,420.68 894.86,421.02 897.00,421.36 899.14,421.70 901.28,422.03 903.42,422.37 905.56,422.71 907.70,423.04 909.84,423.38 911.98,423.71 914.12,424.05 916.26,424.38 918.40,424.72 920.54,425.05 922.68,425.38 924.82,425.71 926.96,426.04 929.10,426.37 931.24,426.70 933.38,427.03 935.52,427.36 937.66,427.69 939.80,428.02 941.94,428.34 944.08,428.67 946.22,429.00 948.36,429.32 950.50,429.65 952.64,429.97 954.78,430.29 956.92,430.62 959.06,430.94 961.20,431.26 963.34,431.58 965.48,431.90 967.62,432.22 969.76,432.54 971.90,432.86 974.04,433.18 976.18,433.50 978.32,433.82 980.46,434.13 982.60,434.45 984.74,434.77 986.88,435.08 989.02,435.40 991.16,435.71 993.30,436.02 995.44,436.34 997.58,436.65 999.72,436.96 1001.86,437.27 1004.00,437.58 1006.14,437.89 1008.28,438.20 1010.42,438.51 1012.56,438.82 1014.70,439.13 1016.84,439.43 1018.98,439.74 1021.12,440.05 1023.26,440.35 1025.40,440.66 1027.54,440.96 1029.68,441.27 1031.82,441.57 1033.96,441.87 1036.10,442.18 1038.24,442.48 1040.38,442.78 1042.52,443.08 1044.66,443.38 1046.80,443.68 1048.94,443.98 1051.08,444.28 1053.22,444.57 1055.36,444.87 1057.50,445.17 1059.64,445.47 1061.78,445.76 1063.92,446.06 1066.06,446.35 1068.20,446.64 1070.34,446.94 1072.48,447.23 1074.62,447.52 1076.76,447.82 1078.90,448.11 1081.04,448.40 1083.18,448.69 1085.32,448.98 1087.46,449.27 1089.60,449.56 1091.74,449.84 1093.88,450.13 1096.02,450.42 1098.16,450.71 1100.30,450.99 1102.44,451.28 1104.58,451.56 1106.72,451.85 1108.86,452.13 1111.00,452.41 1113.14,452.70 1115.28,452.98 1117.42,453.26 1119.56,453.54 1121.70,453.82 1123.84,454.10 1125.98,454.38 1128.12,454.66 1130.26,454.94 1132.40,455.22 1134.54,455.50 1136.68,455.77 1138.82,456.05 1140.96,456.33 1143.10,456.60 1145.24,456.88 1147.38,457.15 1149.52,457.43 1151.66,457.70 1153.80,457.97 1155.94,458.25 1158.08,458.52 1160.22,458.79 1162.36,459.06 1164.50,459.33 1166.64,459.60 1168.78,459.87 1170.92,460.14 1173.06,460.41 1175.20,460.68 1177.34,460.94 1179.48,461.21 1181.62,461.48 1183.76,461.74 1185.90,462.01 1188.04,462.28 1190.18,462.54 1192.32,462.80 1194.46,463.07 1196.60,463.33 1198.74,463.59 1200.88,463.86 1203.02,464.12 1205.16,464.38 1207.30,464.64 1209.44,464.90 1211.58,465.16 1213.72,465.42 1215.86,465.68 1218.00,465.94 1220.14,466.20 1222.28,466.45 1224.42,466.71 1226.56,466.97 1228.70,467.22 1230.84,467.48 1232.98,467.73 1235.12,467.99 1237.26,468.24 1239.40,468.50 1241.54,468.75 1243.68,469.00 1245.82,469.26 1247.96,469.51 1250.10,469.76 1252.24,470.01 1254.38,470.26 1256.52,470.51 1258.66,470.76 1260.80,471.01 1262.94,471.26 1265.08,471.51 1267.22,471.76 1269.36,472.00 1271.50,472.25 1273.64,472.50 1275.78,472.74 1277.92,472.99 1280.06,473.23 1282.20,473.48 1284.34,473.72 1286.48,473.97 1288.62,474.21 1290.76,474.46 1292.90,474.70 1295.04,474.94 1297.18,475.18 1299.31,475.42 1301.45,475.66 1303.59,475.91 1305.73,476.15 1307.87,476.39 1310.01,476.63 1312.15,476.86 1314.29,477.10 1316.43,477.34 1318.57,477.58 1320.71,477.82 1322.85,478.05 1324.99,478.29 1327.13,478.53 1329.27,478.76 1331.41,479.00 1333.55,479.23 1335.69,479.47 1337.83,479.70 1339.97,479.93 1342.11,480.17 1344.25,480.40 1346.39,480.63 1348.53,480.86 1350.67,481.10 1352.81,481.33 1354.95,481.56 1357.09,481.79 1359.23,482.02 1361.37,482.25 1363.51,482.48 1365.65,482.71 1367.79,482.93 1369.93,483.16 1372.07,483.39 1374.21,483.62 1376.35,483.85 1378.49,484.07 1380.63,484.30 1382.77,484.52 1384.91,484.75 1387.05,484.97 1389.19,485.20 1391.33,485.42 1393.47,485.65 1395.61,485.87 1397.75,486.09 1399.89,486.32 1402.03,486.54 1404.17,486.76 1406.31,486.98 1408.45,487.20 1410.59,487.43 1412.73,487.65 1414.87,487.87 1417.01,488.09 1419.15,488.31 1421.29,488.53 1423.43,488.74 1425.57,488.96 1427.71,489.18 1429.85,489.40 1431.99,489.62 1434.13,489.83 1436.27,490.05 1438.41,490.27 1440.55,490.48 1442.69,490.70 1444.83,490.91 1446.97,491.13" stroke="#2ca02c" stroke-opacity="0.95" stroke-dasharray="17.867 7.726" stroke-linejoin="round"/>
<g stroke="none"><rect x="157.89" y="316.15" width="14.50" height="14.50" fill="#2ca02c" fill-opacity="0.95"/><rect x="243.49" y="319.10" width="14.50" height="14.50" fill="#2ca02c" fill-opacity="0.95"/><rect x="329.09" y="325.37" width="14.50" height="14.50" fill="#2ca02c" fill-opacity="0.95"/><rect x="414.69" y="335.17" width="14.50" height="14.50" fill="#2ca02c" fill-opacity="0.95"/><rect x="500.28" y="347.81" width="14.50" height="14.50" fill="#2ca02c" fill-opacity="0.95"/><rect x="585.88" y="362.18" width="14.50" height="14.50" fill="#2ca02c" fill-opacity="0.95"/><rect x="671.48" y="377.22" width="14.50" height="14.50" fill="#2ca02c" fill-opacity="0.95"/><rect x="757.08" y="392.16" width="14.50" height="14.50" fill="#2ca02c" fill-opacity="0.95"/><rect x="842.68" y="406.54" width="14.50" height="14.50" fill="#2ca02c" fill-opacity="0.95"/><rect x="928.27" y="420.11" width="14.50" height="14.50" fill="#2ca02c" fill-opacity="0.95"/><rect x="1013.87" y="432.80" width="14.50" height="14.50" fill="#2ca02c" fill-opacity="0.95"/><rect x="1099.47" y="444.60" width="14.50" height="14.50" fill="#2ca02c" fill-opacity="0.95"/><rect x="1185.07" y="455.55" width="14.50" height="14.50" fill="#2ca02c" fill-opacity="0.95"/><rect x="1270.67" y="465.74" width="14.50" height="14.50" fill="#2ca02c" fill-opacity="0.95"/><rect x="1356.26" y="475.23" width="14.50" height="14.50" fill="#2ca02c" fill-opacity="0.95"/></g>
<polyline points="165.14,426.49 167.28,429.01 169.42,431.48 171.56,433.91 173.70,436.29 175.84,438.63 177.98,440.94 180.12,443.21 182.26,445.44 184.40,447.63 186.54,449.79 188.68,451.92 190.82,454.01 192.96,456.08 195.10,458.11 197.24,460.12 199.38,462.09 201.52,464.04 203.66,465.96 205.80,467.85 207.94,469.72 210.08,471.57 212.22,473.38 214.36,475.18 216.50,476.95 218.64,478.70 220.78,480.43 222.92,482.14 225.06,483.82 227.20,485.49 229.34,487.14 231.48,488.76 233.62,490.37 235.76,491.96 237.90,493.53 240.04,495.08 242.18,496.62 244.32,498.14 246.46,499.64 248.60,501.13 250.74,502.60 252.88,504.06 255.02,505.50 257.16,506.92 259.30,508.33 261.44,509.73 263.58,511.11 265.72,512.48 267.86,513.83 270.00,515.18 272.14,516.51 274.28,517.82 276.42,519.13 278.56,520.42 280.70,521.70 282.84,522.97 284.98,524.22 287.12,525.47 289.26,526.70 291.40,527.93 293.54,529.14 295.68,530.34 297.82,531.53 299.96,532.71 302.10,533.89 304.24,535.05 306.38,536.20 308.52,537.34 310.66,538.48 312.80,539.60 314.94,540.71 317.08,541.82 319.22,542.92 321.36,544.01 323.50,545.09 325.64,546.16 327.78,547.22 329.92,548.28 332.06,549.32 334.20,550.36 336.34,551.39 338.48,552.42 340.62,553.43 342.76,554.44 344.90,555.44 347.04,556.44 349.18,557.43 351.32,558.41 353.46,559.38 355.60,560.35 357.74,561.31 359.88,562.26 362.02,563.21 364.16,564.15 366.30,565.08 368.44,566.01 370.58,566.93 372.72,567.85 374.86,568.76 377.00,569.66 379.14,570.56 381.28,571.45 383.42,572.33 385.56,573.21 387.70,574.09 389.84,574.96 391.98,575.82 394.12,576.68 396.26,577.53 398.40,578.38 400.54,579.23 402.68,580.06 404.82,580.90 406.96,581.72 409.10,582.55 411.24,583.36 413.38,584.18 415.52,584.99 417.66,585.79 419.80,586.59 421.94,587.38 424.08,588.17 426.22,588.96 428.36,589.74 430.50,590.51 432.64,591.29 434.78,592.05 436.92,592.82 439.06,593.58 441.20,594.33 443.33,595.08 445.47,595.83 447.61,596.57 449.75,597.31 451.89,598.05 454.03,598.78 456.17,599.51 458.31,600.23 460.45,600.95 462.59,601.67 464.73,602.38 466.87,603.09 469.01,603.79 471.15,604.50 473.29,605.19 475.43,605.89 477.57,606.58 479.71,607.27 481.85,607.95 483.99,608.63 486.13,609.31 488.27,609.98 490.41,610.65 492.55,611.32 494.69,611.99 496.83,612.65 498.97,613.31 501.11,613.96 503.25,614.61 505.39,615.26 507.53,615.91 509.67,616.55 511.81,617.19 513.95,617.83 516.09,618.46 518.23,619.09 520.37,619.72 522.51,620.35 524.65,620.97 526.79,621.59 528.93,622.21 531.07,622.82 533.21,623.43 535.35,624.04 537.49,624.65 539.63,625.25 541.77,625.85 543.91,626.45 546.05,627.05 548.19,627.64 550.33,628.23 552.47,628.82 554.61,629.40 556.75,629.99 558.89,630.57 561.03,631.14 563.17,631.72 565.31,632.29 567.45,632.87 569.59,633.43 571.73,634.00 573.87,634.56 576.01,635.13 578.15,635.69 580.29,636.24 582.43,636.80 584.57,637.35 586.71,637.90 588.85,638.45 590.99,639.00 593.13,639.54 595.27,640.08 597.41,640.62 599.55,641.16 601.69,641.70 603.83,642.23 605.97,642.76 608.11,643.29 610.25,643.82 612.39,644.34 614.53,644.87 616.67,645.39 618.81,645.91 620.95,646.43 623.09,646.94 625.23,647.46 627.37,647.97 629.51,648.48 631.65,648.99 633.79,649.49 635.93,650.00 638.07,650.50 640.21,651.00 642.35,651.50 644.49,652.00 646.63,652.49 648.77,652.98 650.91,653.48 653.05,653.97 655.19,654.45 657.33,654.94 659.47,655.43 661.61,655.91 663.75,656.39 665.89,656.87 668.03,657.35 670.17,657.83 672.31,658.30 674.45,658.77 676.59,659.25 678.73,659.72 680.87,660.18 683.01,660.65 685.15,661.12 687.29,661.58 689.43,662.04 691.57,662.50 693.71,662.96 695.85,663.42 697.99,663.88 700.13,664.33 702.27,664.78 704.41,665.24 706.55,665.69 708.69,666.13 710.83,666.58 712.97,667.03 715.11,667.47 717.25,667.91 719.39,668.36 721.53,668.80 723.67,669.24 725.81,669.67 727.95,670.11 730.09,670.54 732.23,670.98 734.37,671.41 736.51,671.84 738.65,672.27 740.79,672.70 742.93,673.12 745.07,673.55 747.21,673.97 749.35,674.39 751.49,674.82 753.63,675.24 755.77,675.65 757.91,676.07 760.05,676.49 762.19,676.90 764.33,677.32 766.47,677.73 768.61,678.14 770.75,678.55 772.89,678.96 775.03,679.37 777.17,679.77 779.31,680.18 781.45,680.58 783.59,680.99 785.73,681.39 787.87,681.79 790.01,682.19 792.15,682.59 794.29,682.98 796.43,683.38 798.57,683.77 800.71,684.17 802.85,684.56 804.99,684.95 807.13,685.34 809.27,685.73 811.41,686.12 813.55,686.51 815.69,686.89 817.83,687.28 819.97,687.66 822.11,688.05 824.25,688.43 826.39,688.81 828.53,689.19 830.67,689.57 832.81,689.94 834.95,690.32 837.09,690.70 839.23,691.07 841.37,691.44 843.51,691.82 845.65,692.19 847.79,692.56 849.93,692.93 852.07,693.30 854.21,693.66 856.35,694.03 858.49,694.40 860.63,694.76 862.77,695.12 864.91,695.49 867.05,695.85 869.19,696.21 871.32,696.57 873.46,696.93 875.60,697.29 877.74,697.64 879.88,698.00 882.02,698.36 884.16,698.71 886.30,699.06 888.44,699.42 890.58,699.77 892.72,700.12 894.86,700.47 897.00,700.82 899.14,701.16 901.28,701.51 903.42,701.86 905.56,702.20 907.70,702.55 909.84,702.89 911.98,703.24 914.12,703.58 916.26,703.92 918.40,704.26 920.54,704.60 922.68,704.94 924.82,705.28 926.96,705.61 929.10,705.95 931.24,706.28 933.38,706.62 935.52,706.95 937.66,707.29 939.80,707.62 941.94,707.95 944.08,708.28 946.22,708.61 948.36,708.94 950.50,709.27 952.64,709.59 954.78,709.92 956.92,710.25 959.06,710.57 961.20,710.90 963.34,711.22 965.48,711.54 967.62,711.87 969.76,712.19 971.90,712.51 974.04,712.83 976.18,713.15 978.32,713.46 980.46,713.78 982.60,714.10 984.74,714.42 986.88,714.73 989.02,715.05 991.16,715.36 993.30,715.67 995.44,715.99 997.58,716.30 999.72,716.61 1001.86,716.92 1004.00,717.23 1006.14,717.54 1008.28,717.85 1010.42,718.16 1012.56,718.46 1014.70,718.77 1016.84,719.07 1018.98,719.38 1021.12,719.68 1023.26,719.99 1025.40,720.29 1027.54,720.59 1029.68,720.89 1031.82,721.20 1033.96,721.50 1036.10,721.80 1038.24,722.10 1040.38,722.39 1042.52,722.69 1044.66,722.99 1046.80,723.29 1048.94,723.58 1051.08,723.88 1053.22,724.17 1055.36,724.47 1057.50,724.76 1059.64,725.05 1061.78,725.34 1063.92,725.64 1066.06,725.93 1068.20,726.22 1070.34,726.51 1072.48,726.80 1074.62,727.08 1076.76,727.37 1078.90,727.66 1081.04,727.95 1083.18,728.23 1085.32,728.52 1087.46,728.80 1089.60,729.09 1091.74,729.37 1093.88,729.65 1096.02,729.94 1098.16,730.22 1100.30,730.50 1102.44,730.78 1104.58,731.06 1106.72,731.34 1108.86,731.62 1111.00,731.90 1113.14,732.18 1115.28,732.45 1117.42,732.73 1119.56,733.01 1121.70,733.28 1123.84,733.56 1125.98,733.83 1128.12,734.11 1130.26,734.38 1132.40,734.65 1134.54,734.93 1136.68,735.20 1138.82,735.47 1140.96,735.74 1143.10,736.01 1145.24,736.28 1147.38,736.55 1149.52,736.82 1151.66,737.09 1153.80,737.36 1155.94,737.62 1158.08,737.89 1160.22,738.16 1162.36,738.42 1164.50,738.69 1166.64,738.95 1168.78,739.22 1170.92,739.48 1173.06,739.74 1175.20,740.01 1177.34,740.27 1179.48,740.53 1181.62,740.79 1183.76,741.05 1185.90,741.31 1188.04,741.57 1190.18,741.83 1192.32,742.09 1194.46,742.35 1196.60,742.61 1198.74,742.86 1200.88,743.12 1203.02,743.38 1205.16,743.63 1207.30,743.89 1209.44,744.14 1211.58,744.40 1213.72,744.65 1215.86,744.91 1218.00,745.16 1220.14,745.41 1222.28,745.66 1224.42,745.92 1226.56,746.17 1228.70,746.42 1230.84,746.67 1232.98,746.92 1235.12,747.17 1237.26,747.42 1239.40,747.66 1241.54,747.91 1243.68,748.16 1245.82,748.41 1247.96,748.65 1250.10,748.90 1252.24,749.15 1254.38,749.39 1256.52,749.64 1258.66,749.88 1260.80,750.13 1262.94,750.37 1265.08,750.61 1267.22,750.86 1269.36,751.10 1271.50,751.34 1273.64,751.58 1275.78,751.82 1277.92,752.06 1280.06,752.30 1282.20,752.54 1284.34,752.78 1286.48,753.02 1288.62,753.26 1290.76,753.50 1292.90,753.74 1295.04,753.97 1297.18,754.21 1299.31,754.45 1301.45,754.68 1303.59,754.92 1305.73,755.16 1307.87,755.39 1310.01,755.63 1312.15,755.86 1314.29,756.09 1316.43,756.33 1318.57,756.56 1320.71,756.79 1322.85,757.02 1324.99,757.26 1327.13,757.49 1329.27,757.72 1331.41,757.95 1333.55,758.18 1335.69,758.41 1337.83,758.64 1339.97,758.87 1342.11,759.10 1344.25,759.33 1346.39,759.55 1348.53,759.78 1350.67,760.01 1352.81,760.24 1354.95,760.46 1357.09,760.69 1359.23,760.91 1361.37,761.14 1363.51,761.37 1365.65,761.59 1367.79,761.81 1369.93,762.04 1372.07,762.26 1374.21,762.49 1376.35,762.71 1378.49,762.93 1380.63,763.15 1382.77,763.37 1384.91,763.60 1387.05,763.82 1389.19,764.04 1391.33,764.26 1393.47,764.48 1395.61,764.70 1397.75,764.92 1399.89,765.14 1402.03,765.36 1404.17,765.57 1406.31,765.79 1408.45,766.01 1410.59,766.23 1412.73,766.44 1414.87,766.66 1417.01,766.88 1419.15,767.09 1421.29,767.31 1423.43,767.52 1425.57,767.74 1427.71,767.95 1429.85,768.17 1431.99,768.38 1434.13,768.59 1436.27,768.81 1438.41,769.02 1440.55,769.23 1442.69,769.45 1444.83,769.66 1446.97,769.87" stroke="#d62728" stroke-opacity="0.95" stroke-linecap="round" stroke-linejoin="round"/>
<g stroke="none"><circle cx="165.14" cy="426.49" r="7.25" fill="#d62728" fill-opacity="0.95"/><circle cx="250.74" cy="502.60" r="7.25" fill="#d62728" fill-opacity="0.95"/><circle cx="336.34" cy="551.39" r="7.25" fill="#d62728" fill-opacity="0.95"/><circle cx="421.94" cy="587.38" r="7.25" fill="#d62728" fill-opacity="0.95"/><circle cx="507.53" cy="615.91" r="7.25" fill="#d62728" fill-opacity="0.95"/><circle cx="593.13" cy="639.54" r="7.25" fill="#d62728" fill-opacity="0.95"/><circle cx="678.73" cy="659.72" r="7.25" fill="#d62728" fill-opacity="0.95"/><circle cx="764.33" cy="677.32" r="7.25" fill="#d62728" fill-opacity="0.95"/><circle cx="849.93" cy="692.93" r="7.25" fill="#d62728" fill-opacity="0.95"/><circle cx="935.52" cy="706.95" r="7.25" fill="#d62728" fill-opacity="0.95"/><circle cx="1021.12" cy="719.68" r="7.25" fill="#d62728" fill-opacity="0.95"/><circle cx="1106.72" cy="731.34" r="7.25" fill="#d62728" fill-opacity="0.95"/><circle cx="1192.32" cy="742.09" r="7.25" fill="#d62728" fill-opacity="0.95"/><circle cx="1277.92" cy="752.06" r="7.25" fill="#d62728" fill-opacity="0.95"/><circle cx="1363.51" cy="761.37" r="7.25" fill="#d62728" fill-opacity="0.95"/></g>
<polyline points="165.14,515.65 167.28,515.73 169.42,515.81 171.56,515.89 173.70,515.98 175.84,516.07 177.98,516.16 180.12,516.25 182.26,516.35 184.40,516.45 186.54,516.55 188.68,516.66 190.82,516.77 192.96,516.88 195.10,517.00 197.24,517.12 199.38,517.24 201.52,517.36 203.66,517.49 205.80,517.62 207.94,517.76 210.08,517.90 212.22,518.04 214.36,518.18 216.50,518.33 218.64,518.48 220.78,518.64 222.92,518.80 225.06,518.96 227.20,519.13 229.34,519.29 231.48,519.47 233.62,519.64 235.76,519.82 237.90,520.00 240.04,520.19 242.18,520.38 244.32,520.57 246.46,520.77 248.60,520.97 250.74,521.18 252.88,521.38 255.02,521.60 257.16,521.81 259.30,522.03 261.44,522.25 263.58,522.48 265.72,522.71 267.86,522.94 270.00,523.17 272.14,523.41 274.28,523.66 276.42,523.90 278.56,524.15 280.70,524.41 282.84,524.67 284.98,524.93 287.12,525.19 289.26,525.46 291.40,525.73 293.54,526.00 295.68,526.28 297.82,526.56 299.96,526.85 302.10,527.14 304.24,527.43 306.38,527.72 308.52,528.02 310.66,528.32 312.80,528.63 314.94,528.94 317.08,529.25 319.22,529.56 321.36,529.88 323.50,530.20 325.64,530.52 327.78,530.85 329.92,531.18 332.06,531.51 334.20,531.85 336.34,532.19 338.48,532.53 340.62,532.88 342.76,533.22 344.90,533.57 347.04,533.93 349.18,534.28 351.32,534.64 353.46,535.00 355.60,535.37 357.74,535.74 359.88,536.11 362.02,536.48 364.16,536.85 366.30,537.23 368.44,537.61 370.58,537.99 372.72,538.38 374.86,538.77 377.00,539.16 379.14,539.55 381.28,539.94 383.42,540.34 385.56,540.74 387.70,541.14 389.84,541.54 391.98,541.95 394.12,542.35 396.26,542.76 398.40,543.17 400.54,543.59 402.68,544.00 404.82,544.42 406.96,544.84 409.10,545.26 411.24,545.68 413.38,546.11 415.52,546.53 417.66,546.96 419.80,547.39 421.94,547.82 424.08,548.25 426.22,548.69 428.36,549.12 430.50,549.56 432.64,550.00 434.78,550.44 436.92,550.88 439.06,551.32 441.20,551.76 443.33,552.21 445.47,552.66 447.61,553.10 449.75,553.55 451.89,554.00 454.03,554.45 456.17,554.90 458.31,555.36 460.45,555.81 462.59,556.26 464.73,556.72 466.87,557.18 469.01,557.63 471.15,558.09 473.29,558.55 475.43,559.01 477.57,559.47 479.71,559.93 481.85,560.39 483.99,560.86 486.13,561.32 488.27,561.78 490.41,562.25 492.55,562.71 494.69,563.18 496.83,563.64 498.97,564.11 501.11,564.58 503.25,565.04 505.39,565.51 507.53,565.98 509.67,566.45 511.81,566.92 513.95,567.39 516.09,567.85 518.23,568.32 520.37,568.79 522.51,569.26 524.65,569.73 526.79,570.20 528.93,570.67 531.07,571.14 533.21,571.61 535.35,572.08 537.49,572.55 539.63,573.02 541.77,573.49 543.91,573.96 546.05,574.43 548.19,574.90 550.33,575.37 552.47,575.84 554.61,576.31 556.75,576.78 558.89,577.25 561.03,577.72 563.17,578.19 565.31,578.66 567.45,579.13 569.59,579.60 571.73,580.06 573.87,580.53 576.01,581.00 578.15,581.47 580.29,581.93 582.43,582.40 584.57,582.86 586.71,583.33 588.85,583.80 590.99,584.26 593.13,584.72 595.27,585.19 597.41,585.65 599.55,586.11 601.69,586.58 603.83,587.04 605.97,587.50 608.11,587.96 610.25,588.42 612.39,588.88 614.53,589.34 616.67,589.80 618.81,590.26 620.95,590.72 623.09,591.17 625.23,591.63 627.37,592.09 629.51,592.54 631.65,593.00 633.79,593.45 635.93,593.90 638.07,594.36 640.21,594.81 642.35,595.26 644.49,595.71 646.63,596.16 648.77,596.61 650.91,597.06 653.05,597.51 655.19,597.96 657.33,598.40 659.47,598.85 661.61,599.29 663.75,599.74 665.89,600.18 668.03,600.62 670.17,601.07 672.31,601.51 674.45,601.95 676.59,602.39 678.73,602.83 680.87,603.27 683.01,603.70 685.15,604.14 687.29,604.58 689.43,605.01 691.57,605.44 693.71,605.88 695.85,606.31 697.99,606.74 700.13,607.17 702.27,607.60 704.41,608.03 706.55,608.46 708.69,608.89 710.83,609.32 712.97,609.74 715.11,610.17 717.25,610.59 719.39,611.01 721.53,611.44 723.67,611.86 725.81,612.28 727.95,612.70 730.09,613.12 732.23,613.54 734.37,613.95 736.51,614.37 738.65,614.79 740.79,615.20 742.93,615.61 745.07,616.03 747.21,616.44 749.35,616.85 751.49,617.26 753.63,617.67 755.77,618.08 757.91,618.49 760.05,618.89 762.19,619.30 764.33,619.70 766.47,620.11 768.61,620.51 770.75,620.91 772.89,621.31 775.03,621.71 777.17,622.11 779.31,622.51 781.45,622.91 783.59,623.31 785.73,623.70 787.87,624.10 790.01,624.49 792.15,624.88 794.29,625.28 796.43,625.67 798.57,626.06 800.71,626.45 802.85,626.84 804.99,627.22 807.13,627.61 809.27,628.00 811.41,628.38 813.55,628.77 815.69,629.15 817.83,629.53 819.97,629.91 822.11,630.29 824.25,630.67 826.39,631.05 828.53,631.43 830.67,631.81 832.81,632.18 834.95,632.56 837.09,632.93 839.23,633.31 841.37,633.68 843.51,634.05 845.65,634.42 847.79,634.79 849.93,635.16 852.07,635.53 854.21,635.90 856.35,636.26 858.49,636.63 860.63,636.99 862.77,637.36 864.91,637.72 867.05,638.08 869.19,638.44 871.32,638.80 873.46,639.16 875.60,639.52 877.74,639.88 879.88,640.24 882.02,640.59 884.16,640.95 886.30,641.30 888.44,641.65 890.58,642.01 892.72,642.36 894.86,642.71 897.00,643.06 899.14,643.41 901.28,643.76 903.42,644.11 905.56,644.45 907.70,644.80 909.84,645.14 911.98,645.49 914.12,645.83 916.26,646.17 918.40,646.52 920.54,646.86 922.68,647.20 924.82,647.54 926.96,647.87 929.10,648.21 931.24,648.55 933.38,648.88 935.52,649.22 937.66,649.55 939.80,649.89 941.94,650.22 944.08,650.55 946.22,650.88 948.36,651.21 950.50,651.54 952.64,651.87 954.78,652.20 956.92,652.53 959.06,652.85 961.20,653.18 963.34,653.50 965.48,653.83 967.62,654.15 969.76,654.47 971.90,654.80 974.04,655.12 976.18,655.44 978.32,655.76 980.46,656.08 982.60,656.39 984.74,656.71 986.88,657.03 989.02,657.34 991.16,657.66 993.30,657.97 995.44,658.29 997.58,658.60 999.72,658.91 1001.86,659.22 1004.00,659.53 1006.14,659.84 1008.28,660.15 1010.42,660.46 1012.56,660.77 1014.70,661.07 1016.84,661.38 1018.98,661.68 1021.12,661.99 1023.26,662.29 1025.40,662.60 1027.54,662.90 1029.68,663.20 1031.82,663.50 1033.96,663.80 1036.10,664.10 1038.24,664.40 1040.38,664.70 1042.52,665.00 1044.66,665.29 1046.80,665.59 1048.94,665.89 1051.08,666.18 1053.22,666.47 1055.36,666.77 1057.50,667.06 1059.64,667.35 1061.78,667.64 1063.92,667.93 1066.06,668.22 1068.20,668.51 1070.34,668.80 1072.48,669.09 1074.62,669.38 1076.76,669.66 1078.90,669.95 1081.04,670.24 1083.18,670.52 1085.32,670.81 1087.46,671.09 1089.60,671.37 1091.74,671.65 1093.88,671.94 1096.02,672.22 1098.16,672.50 1100.30,672.78 1102.44,673.06 1104.58,673.33 1106.72,673.61 1108.86,673.89 1111.00,674.16 1113.14,674.44 1115.28,674.72 1117.42,674.99 1119.56,675.26 1121.70,675.54 1123.84,675.81 1125.98,676.08 1128.12,676.35 1130.26,676.63 1132.40,676.90 1134.54,677.17 1136.68,677.43 1138.82,677.70 1140.96,677.97 1143.10,678.24 1145.24,678.50 1147.38,678.77 1149.52,679.04 1151.66,679.30 1153.80,679.57 1155.94,679.83 1158.08,680.09 1160.22,680.36 1162.36,680.62 1164.50,680.88 1166.64,681.14 1168.78,681.40 1170.92,681.66 1173.06,681.92 1175.20,682.18 1177.34,682.44 1179.48,682.69 1181.62,682.95 1183.76,683.21 1185.90,683.46 1188.04,683.72 1190.18,683.97 1192.32,684.23 1194.46,684.48 1196.60,684.73 1198.74,684.99 1200.88,685.24 1203.02,685.49 1205.16,685.74 1207.30,685.99 1209.44,686.24 1211.58,686.49 1213.72,686.74 1215.86,686.99 1218.00,687.24 1220.14,687.48 1222.28,687.73 1224.42,687.98 1226.56,688.22 1228.70,688.47 1230.84,688.71 1232.98,688.96 1235.12,689.20 1237.26,689.44 1239.40,689.69 1241.54,689.93 1243.68,690.17 1245.82,690.41 1247.96,690.65 1250.10,690.89 1252.24,691.13 1254.38,691.37 1256.52,691.61 1258.66,691.85 1260.80,692.08 1262.94,692.32 1265.08,692.56 1267.22,692.79 1269.36,693.03 1271.50,693.27 1273.64,693.50 1275.78,693.73 1277.92,693.97 1280.06,694.20 1282.20,694.43 1284.34,694.67 1286.48,694.90 1288.62,695.13 1290.76,695.36 1292.90,695.59 1295.04,695.82 1297.18,696.05 1299.31,696.28 1301.45,696.51 1303.59,696.74 1305.73,696.96 1307.87,697.19 1310.01,697.42 1312.15,697.64 1314.29,697.87 1316.43,698.10 1318.57,698.32 1320.71,698.55 1322.85,698.77 1324.99,698.99 1327.13,699.22 1329.27,699.44 1331.41,699.66 1333.55,699.88 1335.69,700.11 1337.83,700.33 1339.97,700.55 1342.11,700.77 1344.25,700.99 1346.39,701.21 1348.53,701.42 1350.67,701.64 1352.81,701.86 1354.95,702.08 1357.09,702.30 1359.23,702.51 1361.37,702.73 1363.51,702.95 1365.65,703.16 1367.79,703.38 1369.93,703.59 1372.07,703.80 1374.21,704.02 1376.35,704.23 1378.49,704.44 1380.63,704.66 1382.77,704.87 1384.91,705.08 1387.05,705.29 1389.19,705.50 1391.33,705.71 1393.47,705.92 1395.61,706.13 1397.75,706.34 1399.89,706.55 1402.03,706.76 1404.17,706.97 1406.31,707.18 1408.45,707.39 1410.59,707.59 1412.73,707.80 1414.87,708.01 1417.01,708.21 1419.15,708.42 1421.29,708.62 1423.43,708.83 1425.57,709.03 1427.71,709.23 1429.85,709.44 1431.99,709.64 1434.13,709.84 1436.27,710.05 1438.41,710.25 1440.55,710.45 1442.69,710.65 1444.83,710.85 1446.97,711.05" stroke="#d62728" stroke-opacity="0.95" stroke-dasharray="17.867 7.726" stroke-linejoin="round"/>
<g stroke="none"><rect x="157.89" y="508.40" width="14.50" height="14.50" fill="#d62728" fill-opacity="0.95"/><rect x="243.49" y="513.93" width="14.50" height="14.50" fill="#d62728" fill-opacity="0.95"/><rect x="329.09" y="524.94" width="14.50" height="14.50" fill="#d62728" fill-opacity="0.95"/><rect x="414.69" y="540.57" width="14.50" height="14.50" fill="#d62728" fill-opacity="0.95"/><rect x="500.28" y="558.73" width="14.50" height="14.50" fill="#d62728" fill-opacity="0.95"/><rect x="585.88" y="577.47" width="14.50" height="14.50" fill="#d62728" fill-opacity="0.95"/><rect x="671.48" y="595.58" width="14.50" height="14.50" fill="#d62728" fill-opacity="0.95"/><rect x="757.08" y="612.45" width="14.50" height="14.50" fill="#d62728" fill-opacity="0.95"/><rect x="842.68" y="627.91" width="14.50" height="14.50" fill="#d62728" fill-opacity="0.95"/><rect x="928.27" y="641.97" width="14.50" height="14.50" fill="#d62728" fill-opacity="0.95"/><rect x="1013.87" y="654.74" width="14.50" height="14.50" fill="#d62728" fill-opacity="0.95"/><rect x="1099.47" y="666.36" width="14.50" height="14.50" fill="#d62728" fill-opacity="0.95"/><rect x="1185.07" y="676.98" width="14.50" height="14.50" fill="#d62728" fill-opacity="0.95"/><rect x="1270.67" y="686.72" width="14.50" height="14.50" fill="#d62728" fill-opacity="0.95"/><rect x="1356.26" y="695.70" width="14.50" height="14.50" fill="#d62728" fill-opacity="0.95"/></g>
<polyline points="165.14,372.75 167.28,375.26 169.42,377.73 171.56,380.16 173.70,382.54 175.84,384.89 177.98,387.19 180.12,389.46 182.26,391.69 184.40,393.89 186.54,396.05 188.68,398.17 190.82,400.27 192.96,402.33 195.10,404.37 197.24,406.37 199.38,408.35 201.52,410.29 203.66,412.21 205.80,414.11 207.94,415.98 210.08,417.82 212.22,419.64 214.36,421.43 216.50,423.21 218.64,424.96 220.78,426.69 222.92,428.39 225.06,430.08 227.20,431.74 229.34,433.39 231.48,435.02 233.62,436.62 235.76,438.21 237.90,439.79 240.04,441.34 242.18,442.87 244.32,444.39 246.46,445.90 248.60,447.38 250.74,448.85 252.88,450.31 255.02,451.75 257.16,453.17 259.30,454.59 261.44,455.98 263.58,457.36 265.72,458.73 267.86,460.09 270.00,461.43 272.14,462.76 274.28,464.08 276.42,465.38 278.56,466.67 280.70,467.95 282.84,469.22 284.98,470.48 287.12,471.72 289.26,472.96 291.40,474.18 293.54,475.39 295.68,476.60 297.82,477.79 299.96,478.97 302.10,480.14 304.24,481.30 306.38,482.45 308.52,483.60 310.66,484.73 312.80,485.85 314.94,486.97 317.08,488.07 319.22,489.17 321.36,490.26 323.50,491.34 325.64,492.41 327.78,493.47 329.92,494.53 332.06,495.58 334.20,496.62 336.34,497.65 338.48,498.67 340.62,499.69 342.76,500.70 344.90,501.70 347.04,502.69 349.18,503.68 351.32,504.66 353.46,505.63 355.60,506.60 357.74,507.56 359.88,508.51 362.02,509.46 364.16,510.40 366.30,511.34 368.44,512.26 370.58,513.18 372.72,514.10 374.86,515.01 377.00,515.91 379.14,516.81 381.28,517.70 383.42,518.59 385.56,519.47 387.70,520.34 389.84,521.21 391.98,522.08 394.12,522.94 396.26,523.79 398.40,524.64 400.54,525.48 402.68,526.32 404.82,527.15 406.96,527.98 409.10,528.80 411.24,529.62 413.38,530.43 415.52,531.24 417.66,532.04 419.80,532.84 421.94,533.64 424.08,534.43 426.22,535.21 428.36,535.99 430.50,536.77 432.64,537.54 434.78,538.31 436.92,539.07 439.06,539.83 441.20,540.59 443.33,541.34 445.47,542.09 447.61,542.83 449.75,543.57 451.89,544.30 454.03,545.03 456.17,545.76 458.31,546.49 460.45,547.21 462.59,547.92 464.73,548.63 466.87,549.34 469.01,550.05 471.15,550.75 473.29,551.45 475.43,552.14 477.57,552.83 479.71,553.52 481.85,554.21 483.99,554.89 486.13,555.56 488.27,556.24 490.41,556.91 492.55,557.58 494.69,558.24 496.83,558.90 498.97,559.56 501.11,560.22 503.25,560.87 505.39,561.52 507.53,562.16 509.67,562.80 511.81,563.44 513.95,564.08 516.09,564.72 518.23,565.35 520.37,565.98 522.51,566.60 524.65,567.22 526.79,567.84 528.93,568.46 531.07,569.07 533.21,569.69 535.35,570.29 537.49,570.90 539.63,571.50 541.77,572.11 543.91,572.70 546.05,573.30 548.19,573.89 550.33,574.48 552.47,575.07 554.61,575.66 556.75,576.24 558.89,576.82 561.03,577.40 563.17,577.97 565.31,578.55 567.45,579.12 569.59,579.69 571.73,580.25 573.87,580.82 576.01,581.38 578.15,581.94 580.29,582.50 582.43,583.05 584.57,583.61 586.71,584.16 588.85,584.70 590.99,585.25 593.13,585.79 595.27,586.34 597.41,586.88 599.55,587.41 601.69,587.95 603.83,588.48 605.97,589.02 608.11,589.54 610.25,590.07 612.39,590.60 614.53,591.12 616.67,591.64 618.81,592.16 620.95,592.68 623.09,593.20 625.23,593.71 627.37,594.22 629.51,594.73 631.65,595.24 633.79,595.75 635.93,596.25 638.07,596.75 640.21,597.25 642.35,597.75 644.49,598.25 646.63,598.75 648.77,599.24 650.91,599.73 653.05,600.22 655.19,600.71 657.33,601.20 659.47,601.68 661.61,602.16 663.75,602.65 665.89,603.13 668.03,603.60 670.17,604.08 672.31,604.55 674.45,605.03 676.59,605.50 678.73,605.97 680.87,606.44 683.01,606.91 685.15,607.37 687.29,607.83 689.43,608.30 691.57,608.76 693.71,609.22 695.85,609.67 697.99,610.13 700.13,610.59 702.27,611.04 704.41,611.49 706.55,611.94 708.69,612.39 710.83,612.84 712.97,613.28 715.11,613.73 717.25,614.17 719.39,614.61 721.53,615.05 723.67,615.49 725.81,615.93 727.95,616.36 730.09,616.80 732.23,617.23 734.37,617.66 736.51,618.09 738.65,618.52 740.79,618.95 742.93,619.38 745.07,619.80 747.21,620.23 749.35,620.65 751.49,621.07 753.63,621.49 755.77,621.91 757.91,622.33 760.05,622.74 762.19,623.16 764.33,623.57 766.47,623.98 768.61,624.40 770.75,624.81 772.89,625.21 775.03,625.62 777.17,626.03 779.31,626.43 781.45,626.84 783.59,627.24 785.73,627.64 787.87,628.04 790.01,628.44 792.15,628.84 794.29,629.24 796.43,629.63 798.57,630.03 800.71,630.42 802.85,630.82 804.99,631.21 807.13,631.60 809.27,631.99 811.41,632.37 813.55,632.76 815.69,633.15 817.83,633.53 819.97,633.92 822.11,634.30 824.25,634.68 826.39,635.06 828.53,635.44 830.67,635.82 832.81,636.20 834.95,636.57 837.09,636.95 839.23,637.32 841.37,637.70 843.51,638.07 845.65,638.44 847.79,638.81 849.93,639.18 852.07,639.55 854.21,639.92 856.35,640.28 858.49,640.65 860.63,641.01 862.77,641.38 864.91,641.74 867.05,642.10 869.19,642.46 871.32,642.82 873.46,643.18 875.60,643.54 877.74,643.90 879.88,644.25 882.02,644.61 884.16,644.96 886.30,645.32 888.44,645.67 890.58,646.02 892.72,646.37 894.86,646.72 897.00,647.07 899.14,647.42 901.28,647.77 903.42,648.11 905.56,648.46 907.70,648.80 909.84,649.15 911.98,649.49 914.12,649.83 916.26,650.17 918.40,650.51 920.54,650.85 922.68,651.19 924.82,651.53 926.96,651.87 929.10,652.20 931.24,652.54 933.38,652.87 935.52,653.21 937.66,653.54 939.80,653.87 941.94,654.20 944.08,654.53 946.22,654.86 948.36,655.19 950.50,655.52 952.64,655.85 954.78,656.18 956.92,656.50 959.06,656.83 961.20,657.15 963.34,657.47 965.48,657.80 967.62,658.12 969.76,658.44 971.90,658.76 974.04,659.08 976.18,659.40 978.32,659.72 980.46,660.04 982.60,660.35 984.74,660.67 986.88,660.99 989.02,661.30 991.16,661.61 993.30,661.93 995.44,662.24 997.58,662.55 999.72,662.86 1001.86,663.17 1004.00,663.48 1006.14,663.79 1008.28,664.10 1010.42,664.41 1012.56,664.72 1014.70,665.02 1016.84,665.33 1018.98,665.63 1021.12,665.94 1023.26,666.24 1025.40,666.54 1027.54,666.85 1029.68,667.15 1031.82,667.45 1033.96,667.75 1036.10,668.05 1038.24,668.35 1040.38,668.65 1042.52,668.95 1044.66,669.24 1046.80,669.54 1048.94,669.84 1051.08,670.13 1053.22,670.43 1055.36,670.72 1057.50,671.01 1059.64,671.31 1061.78,671.60 1063.92,671.89 1066.06,672.18 1068.20,672.47 1070.34,672.76 1072.48,673.05 1074.62,673.34 1076.76,673.63 1078.90,673.91 1081.04,674.20 1083.18,674.49 1085.32,674.77 1087.46,675.06 1089.60,675.34 1091.74,675.62 1093.88,675.91 1096.02,676.19 1098.16,676.47 1100.30,676.75 1102.44,677.03 1104.58,677.32 1106.72,677.59 1108.86,677.87 1111.00,678.15 1113.14,678.43 1115.28,678.71 1117.42,678.99 1119.56,679.26 1121.70,679.54 1123.84,679.81 1125.98,680.09 1128.12,680.36 1130.26,680.64 1132.40,680.91 1134.54,681.18 1136.68,681.45 1138.82,681.72 1140.96,682.00 1143.10,682.27 1145.24,682.54 1147.38,682.81 1149.52,683.07 1151.66,683.34 1153.80,683.61 1155.94,683.88 1158.08,684.14 1160.22,684.41 1162.36,684.68 1164.50,684.94 1166.64,685.21 1168.78,685.47 1170.92,685.73 1173.06,686.00 1175.20,686.26 1177.34,686.52 1179.48,686.78 1181.62,687.05 1183.76,687.31 1185.90,687.57 1188.04,687.83 1190.18,688.09 1192.32,688.34 1194.46,688.60 1196.60,688.86 1198.74,689.12 1200.88,689.37 1203.02,689.63 1205.16,689.89 1207.30,690.14 1209.44,690.40 1211.58,690.65 1213.72,690.91 1215.86,691.16 1218.00,691.41 1220.14,691.67 1222.28,691.92 1224.42,692.17 1226.56,692.42 1228.70,692.67 1230.84,692.92 1232.98,693.17 1235.12,693.42 1237.26,693.67 1239.40,693.92 1241.54,694.17 1243.68,694.41 1245.82,694.66 1247.96,694.91 1250.10,695.15 1252.24,695.40 1254.38,695.65 1256.52,695.89 1258.66,696.14 1260.80,696.38 1262.94,696.62 1265.08,696.87 1267.22,697.11 1269.36,697.35 1271.50,697.59 1273.64,697.84 1275.78,698.08 1277.92,698.32 1280.06,698.56 1282.20,698.80 1284.34,699.04 1286.48,699.28 1288.62,699.52 1290.76,699.75 1292.90,699.99 1295.04,700.23 1297.18,700.47 1299.31,700.70 1301.45,700.94 1303.59,701.17 1305.73,701.41 1307.87,701.65 1310.01,701.88 1312.15,702.11 1314.29,702.35 1316.43,702.58 1318.57,702.81 1320.71,703.05 1322.85,703.28 1324.99,703.51 1327.13,703.74 1329.27,703.97 1331.41,704.20 1333.55,704.43 1335.69,704.66 1337.83,704.89 1339.97,705.12 1342.11,705.35 1344.25,705.58 1346.39,705.81 1348.53,706.04 1350.67,706.26 1352.81,706.49 1354.95,706.72 1357.09,706.94 1359.23,707.17 1361.37,707.39 1363.51,707.62 1365.65,707.84 1367.79,708.07 1369.93,708.29 1372.07,708.52 1374.21,708.74 1376.35,708.96 1378.49,709.18 1380.63,709.41 1382.77,709.63 1384.91,709.85 1387.05,710.07 1389.19,710.29 1391.33,710.51 1393.47,710.73 1395.61,710.95 1397.75,711.17 1399.89,711.39 1402.03,711.61 1404.17,711.83 1406.31,712.05 1408.45,712.26 1410.59,712.48 1412.73,712.70 1414.87,712.91 1417.01,713.13 1419.15,713.35 1421.29,713.56 1423.43,713.78 1425.57,713.99 1427.71,714.21 1429.85,714.42 1431.99,714.63 1434.13,714.85 1436.27,715.06 1438.41,715.27 1440.55,715.49 1442.69,715.70 1444.83,715.91 1446.97,716.12" stroke="#9467bd" stroke-opacity="0.95" stroke-linecap="round" stroke-linejoin="round"/>
<g stroke="none"><circle cx="165.14" cy="372.75" r="7.25" fill="#9467bd" fill-opacity="0.95"/><circle cx="250.74" cy="448.85" r="7.25" fill="#9467bd" fill-opacity="0.95"/><circle cx="336.34" cy="497.65" r="7.25" fill="#9467bd" fill-opacity="0.95"/><circle cx="421.94" cy="533.64" r="7.25" fill="#9467bd" fill-opacity="0.95"/><circle cx="507.53" cy="562.16" r="7.25" fill="#9467bd" fill-opacity="0.95"/><circle cx="593.13" cy="585.79" r="7.25" fill="#9467bd" fill-opacity="0.95"/><circle cx="678.73" cy="605.97" r="7.25" fill="#9467bd" fill-opacity="0.95"/><circle cx="764.33" cy="623.57" r="7.25" fill="#9467bd" fill-opacity="0.95"/><circle cx="849.93" cy="639.18" r="7.25" fill="#9467bd" fill-opacity="0.95"/><circle cx="935.52" cy="653.21" r="7.25" fill="#9467bd" fill-opacity="0.95"/><circle cx="1021.12" cy="665.94" r="7.25" fill="#9467bd" fill-opacity="0.95"/><circle cx="1106.72" cy="677.59" r="7.25" fill="#9467bd" fill-opacity="0.95"/><circle cx="1192.32" cy="688.34" r="7.25" fill="#9467bd" fill-opacity="0.95"/><circle cx="1277.92" cy="698.32" r="7.25" fill="#9467bd" fill-opacity="0.95"/><circle cx="1363.51" cy="707.62" r="7.25" fill="#9467bd" fill-opacity="0.95"/></g>
<polyline points="165.14,510.30 167.28,510.16 169.42,510.02 171.56,509.87 173.70,509.73 175.84,509.58 177.98,509.42 180.12,509.27 182.26,509.11 184.40,508.95 186.54,508.79 188.68,508.63 190.82,508.46 192.96,508.30 195.10,508.13 197.24,507.95 199.38,507.78 201.52,507.60 203.66,507.42 205.80,507.24 207.94,507.06 210.08,506.87 212.22,506.68 214.36,506.49 216.50,506.30 218.64,506.10 220.78,505.90 222.92,505.70 225.06,505.50 227.20,505.30 229.34,505.09 231.48,504.88 233.62,504.67 235.76,504.46 237.90,504.24 240.04,504.03 242.18,503.81 244.32,503.58 246.46,503.36 248.60,503.13 250.74,502.90 252.88,502.67 255.02,502.44 257.16,502.20 259.30,501.97 261.44,501.73 263.58,501.48 265.72,501.24 267.86,500.99 270.00,500.74 272.14,500.49 274.28,500.24 276.42,499.98 278.56,499.72 280.70,499.46 282.84,499.20 284.98,498.93 287.12,498.67 289.26,498.40 291.40,498.12 293.54,497.85 295.68,497.57 297.82,497.29 299.96,497.01 302.10,496.73 304.24,496.44 306.38,496.16 308.52,495.87 310.66,495.57 312.80,495.28 314.94,494.98 317.08,494.68 319.22,494.38 321.36,494.07 323.50,493.77 325.64,493.46 327.78,493.15 329.92,492.83 332.06,492.52 334.20,492.20 336.34,491.88 338.48,491.55 340.62,491.23 342.76,490.90 344.90,490.57 347.04,490.23 349.18,489.90 351.32,489.56 353.46,489.22 355.60,488.87 357.74,488.53 359.88,488.18 362.02,487.83 364.16,487.48 366.30,487.12 368.44,486.76 370.58,486.40 372.72,486.04 374.86,485.67 377.00,485.30 379.14,484.93 381.28,484.56 383.42,484.18 385.56,483.80 387.70,483.42 389.84,483.03 391.98,482.65 394.12,482.26 396.26,481.87 398.40,481.47 400.54,481.07 402.68,480.67 404.82,480.27 406.96,479.86 409.10,479.45 411.24,479.04 413.38,478.63 415.52,478.21 417.66,477.79 419.80,477.36 421.94,476.94 424.08,476.51 426.22,476.08 428.36,475.64 430.50,475.20 432.64,474.76 434.78,474.32 436.92,473.87 439.06,473.42 441.20,472.97 443.33,472.51 445.47,472.05 447.61,471.59 449.75,471.12 451.89,470.65 454.03,470.18 456.17,469.71 458.31,469.23 460.45,468.75 462.59,468.26 464.73,467.77 466.87,467.28 469.01,466.79 471.15,466.29 473.29,465.78 475.43,465.28 477.57,464.77 479.71,464.26 481.85,463.74 483.99,463.22 486.13,462.70 488.27,462.17 490.41,461.64 492.55,461.10 494.69,460.56 496.83,460.02 498.97,460.29 501.11,461.23 503.25,462.16 505.39,463.08 507.53,464.00 509.67,464.92 511.81,465.83 513.95,466.74 516.09,467.64 518.23,468.53 520.37,469.43 522.51,470.32 524.65,471.20 526.79,472.08 528.93,472.95 531.07,473.82 533.21,474.69 535.35,475.55 537.49,476.41 539.63,477.27 541.77,478.11 543.91,478.96 546.05,479.80 548.19,480.64 550.33,481.47 552.47,482.30 554.61,483.13 556.75,483.95 558.89,484.77 561.03,485.58 563.17,486.39 565.31,487.20 567.45,488.00 569.59,488.80 571.73,489.60 573.87,490.39 576.01,491.18 578.15,491.96 580.29,492.74 582.43,493.52 584.57,494.29 586.71,495.06 588.85,495.83 590.99,496.59 593.13,497.35 595.27,498.11 597.41,498.86 599.55,499.61 601.69,500.36 603.83,501.10 605.97,501.84 608.11,502.58 610.25,503.31 612.39,504.04 614.53,504.77 616.67,505.50 618.81,506.22 620.95,506.94 623.09,507.65 625.23,508.36 627.37,509.07 629.51,509.78 631.65,510.48 633.79,511.18 635.93,511.88 638.07,512.57 640.21,513.26 642.35,513.95 644.49,514.64 646.63,515.32 648.77,516.00 650.91,516.67 653.05,517.35 655.19,518.02 657.33,518.69 659.47,519.35 661.61,520.02 663.75,520.68 665.89,521.34 668.03,521.99 670.17,522.64 672.31,523.29 674.45,523.94 676.59,524.58 678.73,525.23 680.87,525.87 683.01,526.50 685.15,527.14 687.29,527.77 689.43,528.40 691.57,529.03 693.71,529.65 695.85,530.27 697.99,530.89 700.13,531.51 702.27,532.12 704.41,532.74 706.55,533.35 708.69,533.95 710.83,534.56 712.97,535.16 715.11,535.76 717.25,536.36 719.39,536.96 721.53,537.55 723.67,538.14 725.81,538.73 727.95,539.32 730.09,539.91 732.23,540.49 734.37,541.07 736.51,541.65 738.65,542.22 740.79,542.80 742.93,543.37 745.07,543.94 747.21,544.51 749.35,545.07 751.49,545.64 753.63,546.20 755.77,546.76 757.91,547.31 760.05,547.87 762.19,548.42 764.33,548.98 766.47,549.52 768.61,550.07 770.75,550.62 772.89,551.16 775.03,551.70 777.17,552.24 779.31,552.78 781.45,553.32 783.59,553.85 785.73,554.38 787.87,554.91 790.01,555.44 792.15,555.97 794.29,556.49 796.43,557.01 798.57,557.53 800.71,558.05 802.85,558.57 804.99,559.08 807.13,559.60 809.27,560.11 811.41,560.62 813.55,561.13 815.69,561.63 817.83,562.14 819.97,562.64 822.11,563.14 824.25,563.64 826.39,564.14 828.53,564.64 830.67,565.13 832.81,565.62 834.95,566.11 837.09,566.60 839.23,567.09 841.37,567.58 843.51,568.06 845.65,568.54 847.79,569.03 849.93,569.51 852.07,569.98 854.21,570.46 856.35,570.93 858.49,571.41 860.63,571.88 862.77,572.35 864.91,572.82 867.05,573.29 869.19,573.75 871.32,574.21 873.46,574.68 875.60,575.14 877.74,575.60 879.88,576.06 882.02,576.51 884.16,576.97 886.30,577.42 888.44,577.87 890.58,578.32 892.72,578.77 894.86,579.22 897.00,579.67 899.14,580.11 901.28,580.55 903.42,581.00 905.56,581.44 907.70,581.88 909.84,582.31 911.98,582.75 914.12,583.18 916.26,583.62 918.40,584.05 920.54,584.48 922.68,584.91 924.82,585.34 926.96,585.76 929.10,586.19 931.24,586.61 933.38,587.04 935.52,587.46 937.66,587.88 939.80,588.30 941.94,588.72 944.08,589.13 946.22,589.55 948.36,589.96 950.50,590.37 952.64,590.78 954.78,591.19 956.92,591.60 959.06,592.01 961.20,592.42 963.34,592.82 965.48,593.22 967.62,593.63 969.76,594.03 971.90,594.43 974.04,594.83 976.18,595.22 978.32,595.62 980.46,596.02 982.60,596.41 984.74,596.80 986.88,597.20 989.02,597.59 991.16,597.98 993.30,598.36 995.44,598.75 997.58,599.14 999.72,599.52 1001.86,599.90 1004.00,600.29 1006.14,600.67 1008.28,601.05 1010.42,601.43 1012.56,601.81 1014.70,602.18 1016.84,602.56 1018.98,602.93 1021.12,603.31 1023.26,603.68 1025.40,604.05 1027.54,604.42 1029.68,604.79 1031.82,605.16 1033.96,605.53 1036.10,605.89 1038.24,606.26 1040.38,606.62 1042.52,606.98 1044.66,607.35 1046.80,607.71 1048.94,608.07 1051.08,608.43 1053.22,608.78 1055.36,609.14 1057.50,609.50 1059.64,609.85 1061.78,610.21 1063.92,610.56 1066.06,610.91 1068.20,611.26 1070.34,611.61 1072.48,611.96 1074.62,612.31 1076.76,612.65 1078.90,613.00 1081.04,613.35 1083.18,613.69 1085.32,614.03 1087.46,614.37 1089.60,614.72 1091.74,615.06 1093.88,615.40 1096.02,615.73 1098.16,616.07 1100.30,616.41 1102.44,616.74 1104.58,617.08 1106.72,617.41 1108.86,617.74 1111.00,618.08 1113.14,618.41 1115.28,618.74 1117.42,619.07 1119.56,619.40 1121.70,619.72 1123.84,620.05 1125.98,620.38 1128.12,620.70 1130.26,621.02 1132.40,621.35 1134.54,621.67 1136.68,621.99 1138.82,622.31 1140.96,622.63 1143.10,622.95 1145.24,623.27 1147.38,623.59 1149.52,623.90 1151.66,624.22 1153.80,624.53 1155.94,624.85 1158.08,625.16 1160.22,625.47 1162.36,625.78 1164.50,626.09 1166.64,626.40 1168.78,626.71 1170.92,627.02 1173.06,627.33 1175.20,627.63 1177.34,627.94 1179.48,628.24 1181.62,628.55 1183.76,628.85 1185.90,629.15 1188.04,629.46 1190.18,629.76 1192.32,630.06 1194.46,630.36 1196.60,630.66 1198.74,630.95 1200.88,631.25 1203.02,631.55 1205.16,631.84 1207.30,632.14 1209.44,632.43 1211.58,632.73 1213.72,633.02 1215.86,633.31 1218.00,633.60 1220.14,633.89 1222.28,634.18 1224.42,634.47 1226.56,634.76 1228.70,635.05 1230.84,635.34 1232.98,635.62 1235.12,635.91 1237.26,636.19 1239.40,636.48 1241.54,636.76 1243.68,637.04 1245.82,637.32 1247.96,637.61 1250.10,637.89 1252.24,638.17 1254.38,638.45 1256.52,638.72 1258.66,639.00 1260.80,639.28 1262.94,639.56 1265.08,639.83 1267.22,640.11 1269.36,640.38 1271.50,640.66 1273.64,640.93 1275.78,641.20 1277.92,641.47 1280.06,641.74 1282.20,642.01 1284.34,642.28 1286.48,642.55 1288.62,642.82 1290.76,643.09 1292.90,643.36 1295.04,643.63 1297.18,643.89 1299.31,644.16 1301.45,644.42 1303.59,644.69 1305.73,644.95 1307.87,645.21 1310.01,645.48 1312.15,645.74 1314.29,646.00 1316.43,646.26 1318.57,646.52 1320.71,646.78 1322.85,647.04 1324.99,647.30 1327.13,647.55 1329.27,647.81 1331.41,648.07 1333.55,648.32 1335.69,648.58 1337.83,648.83 1339.97,649.09 1342.11,649.34 1344.25,649.59 1346.39,649.84 1348.53,650.10 1350.67,650.35 1352.81,650.60 1354.95,650.85 1357.09,651.10 1359.23,651.35 1361.37,651.59 1363.51,651.84 1365.65,652.09 1367.79,652.34 1369.93,652.58 1372.07,652.83 1374.21,653.07 1376.35,653.32 1378.49,653.56 1380.63,653.81 1382.77,654.05 1384.91,654.29 1387.05,654.53 1389.19,654.77 1391.33,655.01 1393.47,655.25 1395.61,655.49 1397.75,655.73 1399.89,655.97 1402.03,656.21 1404.17,656.45 1406.31,656.68 1408.45,656.92 1410.59,657.16 1412.73,657.39 1414.87,657.63 1417.01,657.86 1419.15,658.10 1421.29,658.33 1423.43,658.56 1425.57,658.80 1427.71,659.03 1429.85,659.26 1431.99,659.49 1434.13,659.72 1436.27,659.95 1438.41,660.18 1440.55,660.41 1442.69,660.64 1444.83,660.87 1446.97,661.09" stroke="#9467bd" stroke-opacity="0.95" stroke-dasharray="17.867 7.726" stroke-linejoin="round"/>
<g stroke="none"><rect x="157.89" y="503.05" width="14.50" height="14.50" fill="#9467bd" fill-opacity="0.95"/><rect x="243.49" y="495.65" width="14.50" height="14.50" fill="#9467bd" fill-opacity="0.95"/><rect x="329.09" y="484.63" width="14.50" height="14.50" fill="#9467bd" fill-opacity="0.95"/><rect x="414.69" y="469.69" width="14.50" height="14.50" fill="#9467bd" fill-opacity="0.95"/><rect x="500.28" y="456.75" width="14.50" height="14.50" fill="#9467bd" fill-opacity="0.95"/><rect x="585.88" y="490.10" width="14.50" height="14.50" fill="#9467bd" fill-opacity="0.95"/><rect x="671.48" y="517.98" width="14.50" height="14.50" fill="#9467bd" fill-opacity="0.95"/><rect x="757.08" y="541.73" width="14.50" height="14.50" fill="#9467bd" fill-opacity="0.95"/><rect x="842.68" y="562.26" width="14.50" height="14.50" fill="#9467bd" fill-opacity="0.95"/><rect x="928.27" y="580.21" width="14.50" height="14.50" fill="#9467bd" fill-opacity="0.95"/><rect x="1013.87" y="596.06" width="14.50" height="14.50" fill="#9467bd" fill-opacity="0.95"/><rect x="1099.47" y="610.16" width="14.50" height="14.50" fill="#9467bd" fill-opacity="0.95"/><rect x="1185.07" y="622.81" width="14.50" height="14.50" fill="#9467bd" fill-opacity="0.95"/><rect x="1270.67" y="634.22" width="14.50" height="14.50" fill="#9467bd" fill-opacity="0.95"/><rect x="1356.26" y="644.59" width="14.50" height="14.50" fill="#9467bd" fill-opacity="0.95"/></g>
</g>
<path d="M923.55 313.90L927.94 318.29L932.33 313.90L936.72 318.29L932.33 322.68L936.72 327.07L932.33 331.46L927.94 327.07L923.55 331.46L919.16 327.07L923.55 322.68L919.16 318.29Z" fill="#4c72b0" stroke="#000000" stroke-width="2.41" stroke-linejoin="miter"/>
<path d="M272.53 319.11L276.92 323.50L281.31 319.11L285.70 323.50L281.31 327.89L285.70 332.28L281.31 336.67L276.92 332.28L272.53 336.67L268.14 332.28L272.53 327.89L268.14 323.50Z" fill="#2ca02c" stroke="#000000" stroke-width="2.41" stroke-linejoin="miter"/>
<path d="M282.12 516.33L286.51 520.72L290.90 516.33L295.29 520.72L290.90 525.11L295.29 529.50L290.90 533.89L286.51 529.50L282.12 533.89L277.73 529.50L282.12 525.11L277.73 520.72Z" fill="#d62728" stroke="#000000" stroke-width="2.41" stroke-linejoin="miter"/>
<path d="M322.88 484.44L327.27 488.83L331.66 484.44L336.05 488.83L331.66 493.22L336.05 497.61L331.66 502.00L327.27 497.61L322.88 502.00L318.49 497.61L322.88 493.22L318.49 488.83Z" fill="#9467bd" stroke="#000000" stroke-width="2.41" stroke-linejoin="miter"/>
<rect x="101.05" y="11.65" width="1409.95" height="790.15" fill="none" stroke="#cccccc" stroke-width="2.19"/>
<g text-anchor="end">
<text x="93.35" y="684.00">10</text>
<text x="93.35" y="525.00">20</text>
<text x="93.35" y="366.00">30</text>
<text x="93.35" y="207.00">40</text>
<text x="93.35" y="48.00">50</text>
</g><g text-anchor="middle">
<text x="281.67" y="836.00">2</text>
<text x="514.73" y="836.00">4</text>
<text x="747.79" y="836.00">6</text>
<text x="980.85" y="836.00">8</text>
<text x="1213.91" y="836.00">10</text>
<text x="1446.97" y="836.00">12</text>
<text x="806.02" y="879.00">κ (crest factor)</text>
<text transform="translate(33.10 406.72) rotate(-90)">QSNR (dB)</text>
</g>
<path d="M953.12 29.06H1486.58Q1493.60 29.06 1493.60 36.08V238.85Q1493.60 245.87 1486.58 245.87H953.12Q946.10 245.87 946.10 238.85V36.08Q946.10 29.06 953.12 29.06Z" fill="#ffffff" fill-opacity="0.9" stroke="#cccccc" stroke-opacity="0.9" stroke-width="2.19"/>
<path d="M959.70 57.50H1029.94" stroke="#4c72b0" stroke-opacity="0.95" stroke-width="4.829" stroke-linecap="round" fill="none"/>
<circle cx="994.82" cy="57.50" r="7.25" fill="#4c72b0" fill-opacity="0.95"/>
<text x="1058.04" y="70.00">MXINT8</text>
<path d="M959.70 109.05H1029.94" stroke="#2ca02c" stroke-opacity="0.95" stroke-width="4.829" stroke-linecap="round" fill="none"/>
<circle cx="994.82" cy="109.05" r="7.25" fill="#2ca02c" fill-opacity="0.95"/>
<text x="1058.04" y="122.00">MXINT6</text>
<path d="M959.70 160.60H1029.94" stroke="#d62728" stroke-opacity="0.95" stroke-width="4.829" stroke-linecap="round" fill="none"/>
<circle cx="994.82" cy="160.60" r="7.25" fill="#d62728" fill-opacity="0.95"/>
<text x="1058.04" y="173.00">MXINT4</text>
<path d="M959.70 212.15H1029.94" stroke="#9467bd" stroke-opacity="0.95" stroke-width="4.829" stroke-linecap="round" fill="none"/>
<circle cx="994.82" cy="212.15" r="7.25" fill="#9467bd" fill-opacity="0.95"/>
<text x="1058.04" y="225.00">NVINT4</text>
<path d="M1262.90 57.50H1333.14" stroke="#4c72b0" stroke-opacity="0.95" stroke-width="4.829" stroke-dasharray="17.867 7.726" fill="none"/>
<rect x="1290.77" y="50.25" width="14.50" height="14.50" fill="#4c72b0" fill-opacity="0.95"/>
<text x="1361.24" y="70.00">MXFP8</text>
<path d="M1262.90 109.05H1333.14" stroke="#2ca02c" stroke-opacity="0.95" stroke-width="4.829" stroke-dasharray="17.867 7.726" fill="none"/>
<rect x="1290.77" y="101.80" width="14.50" height="14.50" fill="#2ca02c" fill-opacity="0.95"/>
<text x="1361.24" y="122.00">MXFP6</text>
<path d="M1262.90 160.60H1333.14" stroke="#d62728" stroke-opacity="0.95" stroke-width="4.829" stroke-dasharray="17.867 7.726" fill="none"/>
<rect x="1290.77" y="153.35" width="14.50" height="14.50" fill="#d62728" fill-opacity="0.95"/>
<text x="1361.24" y="173.00">MXFP4</text>
<path d="M1262.90 212.15H1333.14" stroke="#9467bd" stroke-opacity="0.95" stroke-width="4.829" stroke-dasharray="17.867 7.726" fill="none"/>
<rect x="1290.77" y="204.90" width="14.50" height="14.50" fill="#9467bd" fill-opacity="0.95"/>
<text x="1361.24" y="225.00">NVFP4</text>
<g fill="none" stroke="#4c72b0" stroke-width="1.71">
<path d="M946.57 312.80L934.57 319.16"/>
<path d="M950.27 318.79L934.57 319.16L943.69 306.38" stroke-linejoin="miter"/>
</g>
<path d="M954.28 223.47H1112.42Q1119.44 223.47 1119.44 230.50V303.12Q1119.44 310.14 1112.42 310.14H954.28Q947.26 310.14 947.26 303.12V230.50Q947.26 223.47 954.28 223.47Z" fill="#ffffff" fill-opacity="0.85" stroke="#4c72b0" stroke-opacity="0.85" stroke-width="2.19"/>
<text x="954.28" y="257" style="fill:#4c72b0">κ=7.55</text>
<text x="954.28" y="297" style="fill:#4c72b0">31.86 dB</text>
<g fill="none" stroke="#2ca02c" stroke-width="1.71">
<path d="M295.55 318.01L283.55 324.37"/>
<path d="M299.25 324.00L283.55 324.37L292.67 311.59" stroke-linejoin="miter"/>
</g>
<path d="M303.26 228.68H461.40Q468.43 228.68 468.43 235.71V308.33Q468.43 315.35 461.40 315.35H303.26Q296.24 315.35 296.24 308.33V235.71Q296.24 228.68 303.26 228.68Z" fill="#ffffff" fill-opacity="0.85" stroke="#2ca02c" stroke-opacity="0.85" stroke-width="2.19"/>
<text x="303.26" y="262" style="fill:#2ca02c">κ=1.96</text>
<text x="303.26" y="302" style="fill:#2ca02c">31.54 dB</text>
<g fill="none" stroke="#d62728" stroke-width="1.71">
<path d="M256.09 557.83L281.40 530.61"/>
<path d="M266.69 536.11L281.40 530.61L276.98 545.68" stroke-linejoin="miter"/>
</g>
<path d="M132.86 562.00H291.00Q298.02 562.00 298.02 569.02V641.64Q298.02 648.67 291.00 648.67H132.86Q125.83 648.67 125.83 641.64V569.02Q125.83 562.00 132.86 562.00Z" fill="#ffffff" fill-opacity="0.85" stroke="#d62728" stroke-opacity="0.85" stroke-width="2.19"/>
<text x="132.86" y="596" style="fill:#d62728">κ=2.04</text>
<text x="132.86" y="635" style="fill:#d62728">19.14 dB</text>
<g fill="none" stroke="#9467bd" stroke-width="1.71">
<path d="M335.43 482.94L331.93 487.35"/>
<path d="M346.17 480.72L331.93 487.35L335.17 471.98" stroke-linejoin="miter"/>
</g>
<path d="M294.34 391.82H452.48Q459.50 391.82 459.50 398.84V471.46Q459.50 478.49 452.48 478.49H294.34Q287.32 478.49 287.32 471.46V398.84Q287.32 391.82 294.34 391.82Z" fill="#ffffff" fill-opacity="0.85" stroke="#9467bd" stroke-opacity="0.85" stroke-width="2.19"/>
<text x="294.34" y="426" style="fill:#9467bd">κ=2.39</text>
<text x="294.34" y="465" style="fill:#9467bd">21.14 dB</text>
</svg></body></html>
